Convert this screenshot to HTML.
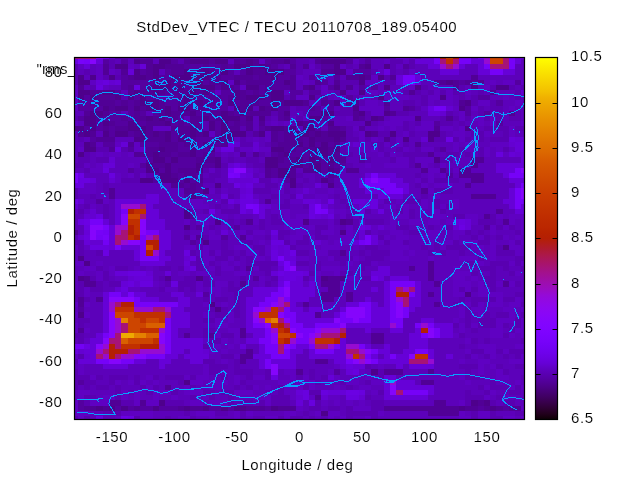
<!DOCTYPE html><html><head><meta charset="utf-8"><style>html,body{margin:0;padding:0;background:#fff;width:640px;height:480px;overflow:hidden}svg{display:block}text{font-family:"Liberation Sans",sans-serif;font-size:15px;letter-spacing:0.58px;fill:#000;stroke:#fff;stroke-width:0.12px;paint-order:fill}</style></head><body>
<svg width="640" height="480" viewBox="0 0 640 480" style="will-change:transform">
<text x="36.6" y="73.8" style="letter-spacing:0.2px">"rms_dummy</text>
<svg x="75" y="58" width="449" height="361" viewBox="75 58 449 361" overflow="hidden">
<rect x="70" y="50" width="460" height="375" fill="#5a00b4"/>
<g transform="translate(71.375,53.91) scale(6.25,5.1715)" shape-rendering="crispEdges">
<path fill="#a61377" d="M0 0h4v1h-4zM69 0h1v1h-1zM59 1h1v1h-1zM61 1h1v1h-1zM69 1h1v1h-1zM60 2h1v1h-1zM67 2h3v1h-3zM11 29h1v1h-1zM11 31h1v1h-1zM8 34h1v1h-1zM7 35h2v1h-2zM13 35h1v1h-1zM7 36h1v1h-1zM52 45h1v1h-1zM54 45h1v1h-1zM53 47h1v1h-1zM7 48h1v1h-1zM34 48h1v1h-1zM53 48h1v1h-1zM13 49h2v1h-2zM33 49h1v1h-1zM15 50h1v1h-1zM33 51h1v1h-1zM8 52h1v1h-1zM34 52h1v1h-1zM8 53h1v1h-1zM43 53h1v1h-1zM7 54h1v1h-1zM40 54h3v1h-3zM6 55h2v1h-2zM7 56h1v1h-1zM33 56h1v1h-1zM39 56h2v1h-2zM5 57h1v1h-1zM9 57h2v1h-2zM33 57h1v1h-1zM44 57h2v1h-2zM4 58h1v1h-1zM7 58h1v1h-1zM46 58h1v1h-1zM54 59h3v1h-3zM52 65h1v1h-1z"/>
<path fill="#8505fc" d="M4 0h1v1h-1zM3 1h1v1h-1zM26 22h2v1h-2zM72 22h1v1h-1zM48 24h1v1h-1zM72 26h1v1h-1zM72 27h1v1h-1zM8 31h1v1h-1zM8 32h1v1h-1zM11 32h1v1h-1zM3 33h2v1h-2zM11 33h1v1h-1zM3 34h1v1h-1zM11 34h1v1h-1zM3 35h1v1h-1zM9 36h2v1h-2zM35 41h1v1h-1zM34 45h1v1h-1zM34 46h1v1h-1zM6 47h4v1h-4zM32 48h1v1h-1zM52 48h1v1h-1zM29 49h2v1h-2zM44 49h3v1h-3zM52 49h1v1h-1zM6 50h1v1h-1zM33 50h1v1h-1zM44 50h3v1h-3zM52 50h1v1h-1zM6 51h1v1h-1zM29 51h1v1h-1zM34 51h1v1h-1zM42 51h1v1h-1zM45 51h1v1h-1zM6 52h1v1h-1zM31 52h1v1h-1zM43 52h1v1h-1zM6 53h1v1h-1zM35 53h1v1h-1zM39 53h1v1h-1zM57 53h1v1h-1zM6 54h1v1h-1zM14 54h1v1h-1zM32 54h1v1h-1zM36 54h1v1h-1zM38 54h1v1h-1zM57 54h1v1h-1zM5 55h1v1h-1zM14 55h1v1h-1zM32 55h1v1h-1zM4 56h1v1h-1zM34 56h1v1h-1zM47 57h1v1h-1zM10 58h2v1h-2zM54 58h1v1h-1zM6 59h2v1h-2zM45 59h1v1h-1zM47 59h1v1h-1zM32 60h1v1h-1zM32 61h1v1h-1zM51 64h1v1h-1zM51 65h1v1h-1z"/>
<path fill="#7602f8" d="M5 0h1v1h-1zM58 0h1v1h-1zM62 0h2v1h-2zM65 0h1v1h-1zM70 0h1v1h-1zM2 1h1v1h-1zM58 1h1v1h-1zM62 1h2v1h-2zM70 1h1v1h-1zM66 2h1v1h-1zM70 2h1v1h-1zM67 3h2v1h-2zM53 4h2v1h-2zM53 5h2v1h-2zM71 22h1v1h-1zM26 23h1v1h-1zM48 23h1v1h-1zM70 23h3v1h-3zM47 24h1v1h-1zM49 24h2v1h-2zM47 25h5v1h-5zM72 25h1v1h-1zM50 26h3v1h-3zM71 26h1v1h-1zM71 27h1v1h-1zM71 28h2v1h-2zM29 29h1v1h-1zM71 29h1v1h-1zM8 30h1v1h-1zM29 30h1v1h-1zM40 30h1v1h-1zM3 32h2v1h-2zM4 34h1v1h-1zM12 34h2v1h-2zM11 35h1v1h-1zM47 35h1v1h-1zM11 36h1v1h-1zM7 37h1v1h-1zM11 37h1v1h-1zM11 38h1v1h-1zM11 39h3v1h-3zM33 39h1v1h-1zM34 40h1v1h-1zM34 41h1v1h-1zM51 44h4v1h-4zM33 45h1v1h-1zM51 45h1v1h-1zM6 46h2v1h-2zM9 46h1v1h-1zM32 46h2v1h-2zM51 46h1v1h-1zM54 46h1v1h-1zM10 47h1v1h-1zM31 47h2v1h-2zM34 47h1v1h-1zM51 47h1v1h-1zM10 48h7v1h-7zM30 48h2v1h-2zM46 48h2v1h-2zM51 48h1v1h-1zM34 49h1v1h-1zM47 49h1v1h-1zM51 49h1v1h-1zM53 49h1v1h-1zM34 50h2v1h-2zM43 50h1v1h-1zM47 50h1v1h-1zM51 50h1v1h-1zM53 50h1v1h-1zM15 51h1v1h-1zM35 51h1v1h-1zM43 51h2v1h-2zM46 51h2v1h-2zM51 51h2v1h-2zM15 52h1v1h-1zM29 52h2v1h-2zM35 52h2v1h-2zM39 52h4v1h-4zM52 52h1v1h-1zM55 52h1v1h-1zM57 52h1v1h-1zM15 53h1v1h-1zM31 53h1v1h-1zM36 53h3v1h-3zM58 53h1v1h-1zM5 54h1v1h-1zM15 54h1v1h-1zM31 54h1v1h-1zM37 54h1v1h-1zM56 54h1v1h-1zM58 54h1v1h-1zM15 55h1v1h-1zM30 55h2v1h-2zM36 55h2v1h-2zM15 56h1v1h-1zM31 56h2v1h-2zM35 56h1v1h-1zM38 56h1v1h-1zM42 56h1v1h-1zM46 56h1v1h-1zM15 57h1v1h-1zM31 57h2v1h-2zM34 57h1v1h-1zM39 57h3v1h-3zM48 57h1v1h-1zM55 57h2v1h-2zM12 58h3v1h-3zM32 58h3v1h-3zM47 58h1v1h-1zM51 58h1v1h-1zM4 59h2v1h-2zM8 59h2v1h-2zM31 59h1v1h-1zM44 59h1v1h-1zM48 59h1v1h-1zM31 60h1v1h-1zM53 65h4v1h-4z"/>
<path fill="#6601d7" d="M6 0h1v1h-1zM53 0h1v1h-1zM56 0h2v1h-2zM64 0h1v1h-1zM71 0h2v1h-2zM4 1h1v1h-1zM55 1h3v1h-3zM64 1h2v1h-2zM71 1h1v1h-1zM2 2h1v1h-1zM11 2h1v1h-1zM57 2h2v1h-2zM62 2h1v1h-1zM65 2h1v1h-1zM9 3h1v1h-1zM59 3h3v1h-3zM65 3h2v1h-2zM69 3h2v1h-2zM52 4h1v1h-1zM55 4h1v1h-1zM4 5h1v1h-1zM7 5h1v1h-1zM52 5h1v1h-1zM55 5h1v1h-1zM57 11h2v1h-2zM70 16h1v1h-1zM8 17h1v1h-1zM71 17h1v1h-1zM71 18h1v1h-1zM70 19h1v1h-1zM72 19h1v1h-1zM72 20h1v1h-1zM5 21h2v1h-2zM68 21h5v1h-5zM68 22h3v1h-3zM28 23h1v1h-1zM47 23h1v1h-1zM49 23h3v1h-3zM69 23h1v1h-1zM3 24h1v1h-1zM25 24h1v1h-1zM29 24h1v1h-1zM46 24h1v1h-1zM51 24h2v1h-2zM70 24h3v1h-3zM27 25h1v1h-1zM39 25h1v1h-1zM46 25h1v1h-1zM52 25h2v1h-2zM71 25h1v1h-1zM28 26h1v1h-1zM47 26h3v1h-3zM53 26h1v1h-1zM70 26h1v1h-1zM12 27h2v1h-2zM24 27h1v1h-1zM27 27h1v1h-1zM36 27h1v1h-1zM49 27h4v1h-4zM70 27h1v1h-1zM7 28h7v1h-7zM29 28h1v1h-1zM37 28h2v1h-2zM45 28h2v1h-2zM69 28h2v1h-2zM7 29h1v1h-1zM12 29h1v1h-1zM30 29h1v1h-1zM40 29h1v1h-1zM47 29h1v1h-1zM70 29h1v1h-1zM72 29h1v1h-1zM7 30h1v1h-1zM12 30h2v1h-2zM30 30h1v1h-1zM46 30h1v1h-1zM71 30h2v1h-2zM7 31h1v1h-1zM12 31h2v1h-2zM30 31h1v1h-1zM39 31h1v1h-1zM5 32h1v1h-1zM7 32h1v1h-1zM12 32h3v1h-3zM61 32h1v1h-1zM63 32h1v1h-1zM6 33h1v1h-1zM12 33h3v1h-3zM47 33h1v1h-1zM63 33h1v1h-1zM2 34h1v1h-1zM6 34h1v1h-1zM14 34h2v1h-2zM24 34h1v1h-1zM6 35h1v1h-1zM14 35h2v1h-2zM48 35h1v1h-1zM2 36h1v1h-1zM6 36h1v1h-1zM14 36h2v1h-2zM45 36h1v1h-1zM48 36h1v1h-1zM6 37h1v1h-1zM8 37h3v1h-3zM14 37h2v1h-2zM32 37h1v1h-1zM34 37h1v1h-1zM10 38h1v1h-1zM14 38h1v1h-1zM34 38h1v1h-1zM10 39h1v1h-1zM14 39h2v1h-2zM34 39h2v1h-2zM11 40h4v1h-4zM18 40h1v1h-1zM49 41h2v1h-2zM7 42h2v1h-2zM15 42h1v1h-1zM32 42h1v1h-1zM37 42h1v1h-1zM48 42h3v1h-3zM10 43h3v1h-3zM33 43h1v1h-1zM36 43h1v1h-1zM49 43h1v1h-1zM51 43h3v1h-3zM8 44h1v1h-1zM35 44h2v1h-2zM38 44h1v1h-1zM50 44h1v1h-1zM55 44h1v1h-1zM29 45h4v1h-4zM35 45h4v1h-4zM48 45h1v1h-1zM50 45h1v1h-1zM55 45h1v1h-1zM5 46h1v1h-1zM8 46h1v1h-1zM10 46h2v1h-2zM16 46h2v1h-2zM20 46h1v1h-1zM29 46h3v1h-3zM35 46h4v1h-4zM50 46h1v1h-1zM55 46h1v1h-1zM5 47h1v1h-1zM11 47h3v1h-3zM17 47h2v1h-2zM28 47h3v1h-3zM35 47h3v1h-3zM47 47h1v1h-1zM50 47h1v1h-1zM54 47h2v1h-2zM5 48h1v1h-1zM17 48h2v1h-2zM28 48h2v1h-2zM35 48h1v1h-1zM44 48h2v1h-2zM48 48h1v1h-1zM50 48h1v1h-1zM54 48h2v1h-2zM5 49h1v1h-1zM16 49h2v1h-2zM28 49h1v1h-1zM35 49h2v1h-2zM38 49h2v1h-2zM43 49h1v1h-1zM48 49h3v1h-3zM54 49h1v1h-1zM5 50h1v1h-1zM16 50h3v1h-3zM28 50h1v1h-1zM36 50h3v1h-3zM42 50h1v1h-1zM48 50h3v1h-3zM5 51h1v1h-1zM16 51h3v1h-3zM28 51h1v1h-1zM36 51h6v1h-6zM48 51h3v1h-3zM56 51h2v1h-2zM5 52h1v1h-1zM16 52h3v1h-3zM28 52h1v1h-1zM37 52h2v1h-2zM44 52h7v1h-7zM58 52h3v1h-3zM5 53h1v1h-1zM16 53h1v1h-1zM28 53h3v1h-3zM47 53h1v1h-1zM51 53h2v1h-2zM55 53h1v1h-1zM59 53h2v1h-2zM4 54h1v1h-1zM16 54h1v1h-1zM29 54h2v1h-2zM54 54h2v1h-2zM59 54h2v1h-2zM3 55h2v1h-2zM16 55h5v1h-5zM28 55h2v1h-2zM43 55h1v1h-1zM54 55h3v1h-3zM3 56h1v1h-1zM16 56h5v1h-5zM27 56h1v1h-1zM30 56h1v1h-1zM36 56h2v1h-2zM43 56h1v1h-1zM47 56h1v1h-1zM50 56h1v1h-1zM54 56h3v1h-3zM2 57h2v1h-2zM16 57h2v1h-2zM19 57h2v1h-2zM30 57h1v1h-1zM35 57h2v1h-2zM38 57h1v1h-1zM42 57h2v1h-2zM49 57h2v1h-2zM53 57h2v1h-2zM57 57h1v1h-1zM3 58h1v1h-1zM15 58h2v1h-2zM18 58h4v1h-4zM29 58h3v1h-3zM35 58h1v1h-1zM38 58h6v1h-6zM48 58h1v1h-1zM50 58h1v1h-1zM52 58h2v1h-2zM57 58h1v1h-1zM60 58h1v1h-1zM1 59h3v1h-3zM10 59h2v1h-2zM14 59h2v1h-2zM19 59h2v1h-2zM30 59h1v1h-1zM32 59h4v1h-4zM42 59h2v1h-2zM49 59h5v1h-5zM5 60h4v1h-4zM14 60h1v1h-1zM30 60h1v1h-1zM33 60h3v1h-3zM45 60h2v1h-2zM52 60h1v1h-1zM54 60h4v1h-4zM44 61h1v1h-1zM41 62h1v1h-1zM50 62h2v1h-2zM50 63h1v1h-1zM52 63h3v1h-3zM50 64h1v1h-1zM52 64h6v1h-6zM36 65h1v1h-1zM41 65h3v1h-3zM50 65h1v1h-1zM57 65h1v1h-1zM50 66h7v1h-7zM36 67h1v1h-1z"/>
<path fill="#5900b1" d="M7 0h1v1h-1zM18 0h1v1h-1zM25 0h1v1h-1zM35 0h1v1h-1zM39 0h1v1h-1zM42 0h1v1h-1zM44 0h2v1h-2zM47 0h4v1h-4zM6 1h1v1h-1zM17 1h1v1h-1zM36 1h2v1h-2zM46 1h1v1h-1zM51 1h2v1h-2zM54 1h1v1h-1zM0 2h1v1h-1zM6 2h1v1h-1zM33 2h1v1h-1zM36 2h1v1h-1zM39 2h1v1h-1zM44 2h1v1h-1zM51 2h1v1h-1zM54 2h1v1h-1zM0 3h1v1h-1zM2 3h1v1h-1zM36 3h1v1h-1zM48 3h1v1h-1zM51 3h1v1h-1zM53 3h1v1h-1zM0 4h1v1h-1zM5 4h1v1h-1zM7 4h1v1h-1zM39 4h2v1h-2zM50 4h1v1h-1zM0 5h1v1h-1zM43 5h3v1h-3zM50 5h2v1h-2zM3 6h1v1h-1zM39 6h1v1h-1zM43 6h1v1h-1zM47 6h1v1h-1zM56 6h1v1h-1zM62 6h1v1h-1zM67 6h1v1h-1zM70 6h1v1h-1zM72 6h1v1h-1zM42 7h1v1h-1zM53 7h1v1h-1zM55 7h1v1h-1zM57 7h1v1h-1zM59 7h1v1h-1zM61 7h2v1h-2zM65 7h1v1h-1zM71 7h1v1h-1zM8 8h1v1h-1zM14 8h2v1h-2zM34 8h1v1h-1zM39 8h1v1h-1zM45 8h1v1h-1zM48 8h1v1h-1zM56 8h1v1h-1zM62 8h1v1h-1zM64 8h1v1h-1zM71 8h1v1h-1zM39 9h1v1h-1zM46 9h1v1h-1zM53 9h2v1h-2zM56 9h1v1h-1zM64 9h1v1h-1zM67 9h1v1h-1zM36 10h2v1h-2zM43 10h2v1h-2zM55 10h1v1h-1zM65 10h1v1h-1zM67 10h2v1h-2zM32 11h1v1h-1zM37 11h1v1h-1zM42 11h3v1h-3zM47 11h1v1h-1zM52 11h2v1h-2zM60 11h1v1h-1zM65 11h1v1h-1zM67 11h2v1h-2zM71 11h1v1h-1zM0 12h1v1h-1zM31 12h1v1h-1zM36 12h1v1h-1zM41 12h1v1h-1zM47 12h1v1h-1zM59 12h1v1h-1zM61 12h1v1h-1zM63 12h1v1h-1zM66 12h1v1h-1zM68 12h1v1h-1zM70 12h2v1h-2zM21 13h1v1h-1zM35 13h1v1h-1zM39 13h2v1h-2zM48 13h1v1h-1zM53 13h1v1h-1zM55 13h1v1h-1zM59 13h2v1h-2zM62 13h1v1h-1zM21 14h1v1h-1zM27 14h1v1h-1zM44 14h1v1h-1zM53 14h1v1h-1zM66 14h4v1h-4zM71 14h2v1h-2zM28 15h1v1h-1zM44 15h1v1h-1zM49 15h2v1h-2zM54 15h1v1h-1zM59 15h1v1h-1zM64 15h2v1h-2zM69 15h1v1h-1zM1 16h1v1h-1zM27 16h1v1h-1zM44 16h2v1h-2zM47 16h1v1h-1zM51 16h1v1h-1zM58 16h2v1h-2zM61 16h1v1h-1zM63 16h1v1h-1zM65 16h1v1h-1zM67 16h3v1h-3zM27 17h2v1h-2zM31 17h1v1h-1zM43 17h1v1h-1zM48 17h2v1h-2zM51 17h1v1h-1zM53 17h1v1h-1zM4 18h2v1h-2zM8 18h1v1h-1zM26 18h1v1h-1zM43 18h1v1h-1zM49 18h1v1h-1zM52 18h1v1h-1zM55 18h1v1h-1zM58 18h1v1h-1zM62 18h1v1h-1zM65 18h1v1h-1zM69 18h1v1h-1zM2 19h1v1h-1zM23 19h1v1h-1zM30 19h1v1h-1zM43 19h2v1h-2zM46 19h1v1h-1zM50 19h1v1h-1zM53 19h4v1h-4zM60 19h2v1h-2zM63 19h1v1h-1zM65 19h1v1h-1zM1 20h2v1h-2zM4 20h2v1h-2zM25 20h1v1h-1zM28 20h2v1h-2zM47 20h1v1h-1zM51 20h1v1h-1zM54 20h1v1h-1zM59 20h2v1h-2zM0 21h2v1h-2zM24 21h1v1h-1zM29 21h2v1h-2zM44 21h1v1h-1zM54 21h1v1h-1zM58 21h1v1h-1zM2 22h1v1h-1zM10 22h2v1h-2zM21 22h1v1h-1zM23 22h1v1h-1zM60 22h1v1h-1zM10 23h1v1h-1zM12 23h1v1h-1zM22 23h2v1h-2zM36 23h1v1h-1zM39 23h2v1h-2zM55 23h1v1h-1zM8 24h3v1h-3zM21 24h2v1h-2zM30 24h2v1h-2zM37 24h1v1h-1zM39 24h1v1h-1zM42 24h1v1h-1zM56 24h1v1h-1zM58 24h4v1h-4zM5 25h1v1h-1zM31 25h2v1h-2zM34 25h1v1h-1zM36 25h1v1h-1zM42 25h1v1h-1zM55 25h1v1h-1zM0 26h1v1h-1zM5 26h1v1h-1zM23 26h1v1h-1zM29 26h3v1h-3zM34 26h1v1h-1zM58 26h3v1h-3zM0 27h1v1h-1zM3 27h1v1h-1zM25 27h1v1h-1zM32 27h1v1h-1zM35 27h1v1h-1zM42 27h1v1h-1zM56 27h1v1h-1zM24 28h1v1h-1zM34 28h1v1h-1zM43 28h1v1h-1zM50 28h1v1h-1zM53 28h3v1h-3zM58 28h1v1h-1zM2 29h1v1h-1zM5 29h1v1h-1zM23 29h1v1h-1zM26 29h1v1h-1zM33 29h2v1h-2zM37 29h1v1h-1zM44 29h1v1h-1zM58 29h1v1h-1zM60 29h1v1h-1zM1 30h1v1h-1zM5 30h1v1h-1zM19 30h1v1h-1zM21 30h1v1h-1zM24 30h3v1h-3zM45 30h1v1h-1zM47 30h1v1h-1zM52 30h1v1h-1zM54 30h1v1h-1zM59 30h1v1h-1zM5 31h1v1h-1zM32 31h1v1h-1zM44 31h1v1h-1zM46 31h1v1h-1zM54 31h1v1h-1zM61 31h2v1h-2zM67 31h1v1h-1zM19 32h1v1h-1zM25 32h1v1h-1zM27 32h1v1h-1zM30 32h1v1h-1zM32 32h2v1h-2zM42 32h1v1h-1zM45 32h1v1h-1zM47 32h3v1h-3zM65 32h3v1h-3zM19 33h1v1h-1zM22 33h1v1h-1zM25 33h1v1h-1zM30 33h1v1h-1zM39 33h2v1h-2zM43 33h1v1h-1zM45 33h1v1h-1zM52 33h2v1h-2zM57 33h1v1h-1zM60 33h1v1h-1zM68 33h1v1h-1zM70 33h1v1h-1zM18 34h1v1h-1zM28 34h1v1h-1zM33 34h2v1h-2zM39 34h1v1h-1zM47 34h1v1h-1zM54 34h2v1h-2zM63 34h1v1h-1zM65 34h1v1h-1zM71 34h1v1h-1zM21 35h1v1h-1zM31 35h1v1h-1zM33 35h1v1h-1zM37 35h1v1h-1zM39 35h2v1h-2zM49 35h1v1h-1zM64 35h1v1h-1zM66 35h1v1h-1zM68 35h1v1h-1zM0 36h2v1h-2zM20 36h1v1h-1zM24 36h1v1h-1zM27 36h2v1h-2zM34 36h1v1h-1zM36 36h2v1h-2zM50 36h1v1h-1zM53 36h1v1h-1zM58 36h1v1h-1zM61 36h1v1h-1zM65 36h2v1h-2zM71 36h1v1h-1zM1 37h1v1h-1zM20 37h1v1h-1zM24 37h1v1h-1zM29 37h2v1h-2zM35 37h1v1h-1zM47 37h2v1h-2zM56 37h1v1h-1zM58 37h1v1h-1zM60 37h4v1h-4zM68 37h1v1h-1zM1 38h1v1h-1zM4 38h1v1h-1zM19 38h1v1h-1zM22 38h1v1h-1zM24 38h2v1h-2zM27 38h1v1h-1zM30 38h1v1h-1zM36 38h2v1h-2zM41 38h2v1h-2zM46 38h1v1h-1zM48 38h3v1h-3zM57 38h1v1h-1zM59 38h1v1h-1zM62 38h1v1h-1zM68 38h3v1h-3zM20 39h1v1h-1zM23 39h2v1h-2zM26 39h1v1h-1zM28 39h1v1h-1zM42 39h3v1h-3zM47 39h3v1h-3zM65 39h1v1h-1zM71 39h2v1h-2zM20 40h1v1h-1zM22 40h1v1h-1zM28 40h5v1h-5zM36 40h2v1h-2zM39 40h1v1h-1zM43 40h1v1h-1zM46 40h2v1h-2zM63 40h2v1h-2zM67 40h3v1h-3zM71 40h1v1h-1zM4 41h1v1h-1zM7 41h2v1h-2zM14 41h2v1h-2zM17 41h1v1h-1zM20 41h1v1h-1zM23 41h1v1h-1zM26 41h1v1h-1zM30 41h2v1h-2zM39 41h1v1h-1zM46 41h1v1h-1zM65 41h3v1h-3zM69 41h1v1h-1zM72 41h1v1h-1zM5 42h1v1h-1zM23 42h1v1h-1zM31 42h1v1h-1zM38 42h1v1h-1zM43 42h2v1h-2zM64 42h1v1h-1zM67 42h1v1h-1zM70 42h1v1h-1zM3 43h1v1h-1zM5 43h1v1h-1zM14 43h1v1h-1zM18 43h2v1h-2zM21 43h1v1h-1zM27 43h1v1h-1zM32 43h1v1h-1zM37 43h1v1h-1zM46 43h2v1h-2zM66 43h2v1h-2zM1 44h1v1h-1zM4 44h1v1h-1zM6 44h2v1h-2zM15 44h1v1h-1zM17 44h3v1h-3zM21 44h2v1h-2zM25 44h1v1h-1zM31 44h1v1h-1zM66 44h2v1h-2zM71 44h1v1h-1zM1 45h1v1h-1zM3 45h2v1h-2zM14 45h1v1h-1zM17 45h1v1h-1zM19 45h1v1h-1zM25 45h2v1h-2zM62 45h1v1h-1zM64 45h1v1h-1zM67 45h1v1h-1zM0 46h2v1h-2zM26 46h1v1h-1zM71 46h2v1h-2zM0 47h1v1h-1zM2 47h1v1h-1zM21 47h1v1h-1zM23 47h2v1h-2zM26 47h1v1h-1zM62 47h1v1h-1zM64 47h4v1h-4zM69 47h2v1h-2zM26 48h1v1h-1zM61 48h1v1h-1zM64 48h1v1h-1zM72 48h1v1h-1zM22 49h1v1h-1zM24 49h1v1h-1zM26 49h1v1h-1zM63 49h1v1h-1zM23 50h2v1h-2zM26 50h1v1h-1zM63 50h1v1h-1zM66 50h1v1h-1zM68 50h2v1h-2zM72 50h1v1h-1zM1 51h2v1h-2zM21 51h2v1h-2zM63 51h1v1h-1zM65 51h3v1h-3zM71 51h1v1h-1zM1 52h1v1h-1zM61 52h1v1h-1zM63 52h1v1h-1zM65 52h3v1h-3zM69 52h1v1h-1zM71 52h1v1h-1zM21 53h2v1h-2zM64 53h1v1h-1zM70 53h1v1h-1zM0 54h2v1h-2zM21 54h1v1h-1zM24 54h2v1h-2zM62 54h1v1h-1zM69 54h1v1h-1zM1 55h1v1h-1zM22 55h2v1h-2zM64 55h1v1h-1zM66 55h1v1h-1zM72 55h1v1h-1zM21 56h1v1h-1zM62 56h1v1h-1zM64 57h2v1h-2zM68 57h1v1h-1zM70 57h3v1h-3zM1 58h1v1h-1zM24 58h2v1h-2zM63 58h1v1h-1zM66 58h1v1h-1zM69 58h1v1h-1zM71 58h1v1h-1zM0 59h1v1h-1zM21 59h2v1h-2zM26 59h1v1h-1zM22 60h3v1h-3zM26 60h1v1h-1zM47 60h1v1h-1zM62 60h3v1h-3zM68 60h1v1h-1zM71 60h2v1h-2zM0 61h1v1h-1zM22 61h2v1h-2zM26 61h3v1h-3zM31 61h1v1h-1zM38 61h1v1h-1zM49 61h1v1h-1zM63 61h1v1h-1zM69 61h1v1h-1zM0 62h3v1h-3zM4 62h1v1h-1zM6 62h3v1h-3zM10 62h1v1h-1zM13 62h1v1h-1zM15 62h3v1h-3zM19 62h1v1h-1zM24 62h1v1h-1zM28 62h1v1h-1zM31 62h1v1h-1zM36 62h1v1h-1zM38 62h1v1h-1zM40 62h1v1h-1zM49 62h1v1h-1zM63 62h3v1h-3zM72 62h1v1h-1zM0 63h1v1h-1zM2 63h2v1h-2zM6 63h1v1h-1zM10 63h1v1h-1zM17 63h1v1h-1zM27 63h1v1h-1zM39 63h1v1h-1zM43 63h1v1h-1zM47 63h1v1h-1zM67 63h1v1h-1zM0 64h1v1h-1zM2 64h1v1h-1zM4 64h2v1h-2zM7 64h1v1h-1zM11 64h1v1h-1zM13 64h1v1h-1zM19 64h1v1h-1zM26 64h1v1h-1zM28 64h1v1h-1zM33 64h1v1h-1zM37 64h1v1h-1zM44 64h1v1h-1zM65 64h1v1h-1zM67 64h3v1h-3zM71 64h1v1h-1zM7 65h1v1h-1zM9 65h1v1h-1zM12 65h1v1h-1zM16 65h1v1h-1zM21 65h2v1h-2zM24 65h2v1h-2zM31 65h1v1h-1zM33 65h1v1h-1zM38 65h2v1h-2zM49 65h1v1h-1zM63 65h1v1h-1zM66 65h1v1h-1zM70 65h2v1h-2zM2 66h2v1h-2zM7 66h1v1h-1zM19 66h1v1h-1zM22 66h1v1h-1zM25 66h1v1h-1zM32 66h3v1h-3zM47 66h1v1h-1zM63 66h3v1h-3zM68 66h1v1h-1zM2 67h1v1h-1zM8 67h2v1h-2zM15 67h3v1h-3zM25 67h1v1h-1zM27 67h2v1h-2zM30 67h1v1h-1zM32 67h3v1h-3zM39 67h1v1h-1zM48 67h2v1h-2zM63 67h1v1h-1zM67 67h1v1h-1zM69 67h2v1h-2zM38 68h2v1h-2zM41 68h2v1h-2zM44 68h1v1h-1zM48 68h2v1h-2zM5 69h3v1h-3zM18 69h1v1h-1zM23 69h2v1h-2zM27 69h1v1h-1zM37 69h1v1h-1zM44 69h5v1h-5zM64 69h1v1h-1zM67 69h1v1h-1zM71 69h2v1h-2zM0 70h1v1h-1zM2 70h1v1h-1zM10 70h1v1h-1zM15 70h1v1h-1zM19 70h1v1h-1zM27 70h1v1h-1zM29 70h2v1h-2zM33 70h1v1h-1zM35 70h2v1h-2zM38 70h1v1h-1zM40 70h1v1h-1zM44 70h1v1h-1zM48 70h1v1h-1zM64 70h1v1h-1zM67 70h2v1h-2z"/>
<path fill="#5c01ba" d="M8 0h1v1h-1zM10 0h1v1h-1zM12 0h1v1h-1zM17 0h1v1h-1zM21 0h3v1h-3zM30 0h1v1h-1zM32 0h1v1h-1zM36 0h1v1h-1zM38 0h1v1h-1zM40 0h2v1h-2zM55 0h1v1h-1zM7 1h1v1h-1zM9 1h1v1h-1zM13 1h1v1h-1zM25 1h1v1h-1zM38 1h1v1h-1zM48 1h2v1h-2zM72 1h1v1h-1zM3 2h1v1h-1zM10 2h1v1h-1zM34 2h1v1h-1zM45 2h1v1h-1zM48 2h2v1h-2zM55 2h2v1h-2zM63 2h2v1h-2zM71 2h2v1h-2zM1 3h1v1h-1zM3 3h1v1h-1zM7 3h1v1h-1zM14 3h1v1h-1zM26 3h1v1h-1zM37 3h3v1h-3zM52 3h1v1h-1zM55 3h4v1h-4zM62 3h3v1h-3zM71 3h2v1h-2zM2 4h1v1h-1zM37 4h1v1h-1zM41 4h1v1h-1zM43 4h1v1h-1zM56 4h8v1h-8zM65 4h8v1h-8zM36 5h1v1h-1zM38 5h1v1h-1zM41 5h1v1h-1zM49 5h1v1h-1zM56 5h2v1h-2zM66 5h1v1h-1zM68 5h1v1h-1zM2 6h1v1h-1zM6 6h2v1h-2zM36 6h1v1h-1zM45 6h1v1h-1zM49 6h1v1h-1zM51 6h3v1h-3zM57 6h4v1h-4zM63 6h1v1h-1zM65 6h1v1h-1zM71 6h1v1h-1zM8 7h1v1h-1zM37 7h1v1h-1zM41 7h1v1h-1zM44 7h2v1h-2zM49 7h1v1h-1zM51 7h1v1h-1zM56 7h1v1h-1zM64 7h1v1h-1zM66 7h1v1h-1zM68 7h3v1h-3zM41 8h1v1h-1zM43 8h1v1h-1zM46 8h2v1h-2zM54 8h2v1h-2zM61 8h1v1h-1zM63 8h1v1h-1zM67 8h2v1h-2zM70 8h1v1h-1zM72 8h1v1h-1zM38 9h1v1h-1zM49 9h1v1h-1zM51 9h2v1h-2zM55 9h1v1h-1zM58 9h1v1h-1zM61 9h1v1h-1zM69 9h2v1h-2zM25 10h1v1h-1zM29 10h1v1h-1zM35 10h1v1h-1zM40 10h1v1h-1zM42 10h1v1h-1zM51 10h2v1h-2zM66 10h1v1h-1zM69 10h1v1h-1zM71 10h2v1h-2zM0 11h2v1h-2zM8 11h1v1h-1zM12 11h1v1h-1zM35 11h2v1h-2zM54 11h3v1h-3zM61 11h1v1h-1zM64 11h1v1h-1zM69 11h1v1h-1zM72 11h1v1h-1zM18 12h1v1h-1zM29 12h1v1h-1zM32 12h1v1h-1zM42 12h2v1h-2zM50 12h1v1h-1zM56 12h3v1h-3zM69 12h1v1h-1zM72 12h1v1h-1zM1 13h1v1h-1zM29 13h1v1h-1zM31 13h1v1h-1zM33 13h1v1h-1zM42 13h5v1h-5zM49 13h1v1h-1zM54 13h1v1h-1zM61 13h1v1h-1zM63 13h2v1h-2zM66 13h1v1h-1zM69 13h3v1h-3zM29 14h1v1h-1zM36 14h1v1h-1zM40 14h1v1h-1zM47 14h2v1h-2zM50 14h1v1h-1zM52 14h1v1h-1zM54 14h1v1h-1zM61 14h1v1h-1zM64 14h2v1h-2zM0 15h1v1h-1zM4 15h1v1h-1zM45 15h1v1h-1zM52 15h1v1h-1zM55 15h2v1h-2zM60 15h1v1h-1zM63 15h1v1h-1zM67 15h2v1h-2zM71 15h2v1h-2zM0 16h1v1h-1zM2 16h1v1h-1zM7 16h3v1h-3zM28 16h1v1h-1zM30 16h1v1h-1zM49 16h1v1h-1zM54 16h2v1h-2zM64 16h1v1h-1zM66 16h1v1h-1zM0 17h2v1h-2zM4 17h1v1h-1zM30 17h1v1h-1zM47 17h1v1h-1zM54 17h1v1h-1zM56 17h5v1h-5zM62 17h1v1h-1zM65 17h2v1h-2zM0 18h1v1h-1zM44 18h2v1h-2zM47 18h1v1h-1zM50 18h2v1h-2zM54 18h1v1h-1zM60 18h1v1h-1zM67 18h1v1h-1zM0 19h1v1h-1zM3 19h1v1h-1zM5 19h1v1h-1zM8 19h1v1h-1zM25 19h1v1h-1zM28 19h1v1h-1zM31 19h1v1h-1zM45 19h1v1h-1zM47 19h2v1h-2zM52 19h1v1h-1zM58 19h2v1h-2zM62 19h1v1h-1zM64 19h1v1h-1zM67 19h1v1h-1zM0 20h1v1h-1zM3 20h1v1h-1zM7 20h5v1h-5zM24 20h1v1h-1zM26 20h2v1h-2zM30 20h1v1h-1zM44 20h2v1h-2zM48 20h3v1h-3zM62 20h2v1h-2zM66 20h6v1h-6zM3 21h1v1h-1zM7 21h2v1h-2zM10 21h1v1h-1zM28 21h1v1h-1zM45 21h2v1h-2zM48 21h2v1h-2zM57 21h1v1h-1zM60 21h4v1h-4zM65 21h3v1h-3zM0 22h2v1h-2zM6 22h3v1h-3zM24 22h1v1h-1zM30 22h1v1h-1zM36 22h1v1h-1zM43 22h1v1h-1zM46 22h10v1h-10zM64 22h4v1h-4zM2 23h4v1h-4zM8 23h1v1h-1zM21 23h1v1h-1zM24 23h1v1h-1zM29 23h1v1h-1zM37 23h2v1h-2zM43 23h4v1h-4zM52 23h3v1h-3zM56 23h1v1h-1zM58 23h1v1h-1zM61 23h1v1h-1zM66 23h3v1h-3zM4 24h2v1h-2zM23 24h2v1h-2zM33 24h1v1h-1zM36 24h1v1h-1zM38 24h1v1h-1zM43 24h3v1h-3zM53 24h2v1h-2zM62 24h2v1h-2zM66 24h4v1h-4zM4 25h1v1h-1zM6 25h10v1h-10zM21 25h2v1h-2zM24 25h2v1h-2zM37 25h2v1h-2zM43 25h3v1h-3zM54 25h1v1h-1zM57 25h1v1h-1zM61 25h2v1h-2zM64 25h7v1h-7zM4 26h1v1h-1zM7 26h11v1h-11zM25 26h2v1h-2zM32 26h1v1h-1zM35 26h1v1h-1zM39 26h2v1h-2zM42 26h5v1h-5zM54 26h2v1h-2zM61 26h9v1h-9zM1 27h2v1h-2zM4 27h2v1h-2zM7 27h5v1h-5zM14 27h4v1h-4zM21 27h3v1h-3zM26 27h1v1h-1zM30 27h2v1h-2zM33 27h2v1h-2zM37 27h2v1h-2zM41 27h1v1h-1zM43 27h6v1h-6zM53 27h3v1h-3zM57 27h1v1h-1zM59 27h5v1h-5zM68 27h2v1h-2zM2 28h2v1h-2zM6 28h1v1h-1zM14 28h5v1h-5zM21 28h2v1h-2zM30 28h1v1h-1zM32 28h2v1h-2zM42 28h1v1h-1zM44 28h1v1h-1zM51 28h1v1h-1zM57 28h1v1h-1zM59 28h2v1h-2zM62 28h7v1h-7zM1 29h1v1h-1zM4 29h1v1h-1zM6 29h1v1h-1zM13 29h6v1h-6zM22 29h1v1h-1zM24 29h1v1h-1zM35 29h2v1h-2zM42 29h2v1h-2zM49 29h1v1h-1zM52 29h1v1h-1zM54 29h2v1h-2zM57 29h1v1h-1zM62 29h8v1h-8zM4 30h1v1h-1zM6 30h1v1h-1zM14 30h4v1h-4zM20 30h1v1h-1zM31 30h1v1h-1zM35 30h3v1h-3zM44 30h1v1h-1zM50 30h2v1h-2zM55 30h3v1h-3zM60 30h8v1h-8zM69 30h2v1h-2zM0 31h2v1h-2zM6 31h1v1h-1zM14 31h4v1h-4zM25 31h1v1h-1zM27 31h2v1h-2zM31 31h1v1h-1zM33 31h1v1h-1zM35 31h1v1h-1zM42 31h1v1h-1zM47 31h4v1h-4zM55 31h3v1h-3zM60 31h1v1h-1zM65 31h1v1h-1zM69 31h1v1h-1zM0 32h1v1h-1zM6 32h1v1h-1zM15 32h3v1h-3zM22 32h1v1h-1zM24 32h1v1h-1zM26 32h1v1h-1zM31 32h1v1h-1zM38 32h3v1h-3zM50 32h1v1h-1zM52 32h2v1h-2zM56 32h1v1h-1zM59 32h1v1h-1zM68 32h1v1h-1zM71 32h1v1h-1zM0 33h2v1h-2zM15 33h3v1h-3zM21 33h1v1h-1zM23 33h1v1h-1zM27 33h3v1h-3zM31 33h3v1h-3zM37 33h1v1h-1zM42 33h1v1h-1zM54 33h3v1h-3zM58 33h1v1h-1zM64 33h2v1h-2zM71 33h1v1h-1zM1 34h1v1h-1zM16 34h2v1h-2zM19 34h3v1h-3zM23 34h1v1h-1zM26 34h1v1h-1zM31 34h1v1h-1zM35 34h1v1h-1zM38 34h1v1h-1zM42 34h1v1h-1zM45 34h1v1h-1zM49 34h2v1h-2zM53 34h1v1h-1zM56 34h1v1h-1zM59 34h2v1h-2zM64 34h1v1h-1zM66 34h1v1h-1zM68 34h3v1h-3zM0 35h1v1h-1zM16 35h2v1h-2zM25 35h2v1h-2zM29 35h2v1h-2zM34 35h1v1h-1zM41 35h2v1h-2zM45 35h1v1h-1zM51 35h1v1h-1zM54 35h2v1h-2zM59 35h2v1h-2zM62 35h2v1h-2zM67 35h1v1h-1zM70 35h1v1h-1zM72 35h1v1h-1zM16 36h3v1h-3zM22 36h2v1h-2zM25 36h2v1h-2zM29 36h1v1h-1zM31 36h1v1h-1zM38 36h1v1h-1zM41 36h1v1h-1zM54 36h3v1h-3zM62 36h1v1h-1zM68 36h2v1h-2zM16 37h2v1h-2zM22 37h2v1h-2zM25 37h1v1h-1zM36 37h4v1h-4zM43 37h2v1h-2zM46 37h1v1h-1zM49 37h2v1h-2zM54 37h2v1h-2zM57 37h1v1h-1zM66 37h1v1h-1zM72 37h1v1h-1zM0 38h1v1h-1zM2 38h2v1h-2zM6 38h4v1h-4zM15 38h3v1h-3zM20 38h1v1h-1zM26 38h1v1h-1zM29 38h1v1h-1zM38 38h1v1h-1zM44 38h2v1h-2zM47 38h1v1h-1zM53 38h1v1h-1zM55 38h2v1h-2zM58 38h1v1h-1zM60 38h2v1h-2zM63 38h2v1h-2zM66 38h1v1h-1zM0 39h1v1h-1zM2 39h8v1h-8zM16 39h2v1h-2zM27 39h1v1h-1zM31 39h1v1h-1zM38 39h3v1h-3zM46 39h1v1h-1zM50 39h1v1h-1zM54 39h3v1h-3zM58 39h4v1h-4zM66 39h1v1h-1zM68 39h3v1h-3zM3 40h1v1h-1zM5 40h6v1h-6zM15 40h3v1h-3zM19 40h1v1h-1zM23 40h1v1h-1zM25 40h1v1h-1zM27 40h1v1h-1zM38 40h1v1h-1zM40 40h3v1h-3zM45 40h1v1h-1zM49 40h8v1h-8zM58 40h5v1h-5zM66 40h1v1h-1zM0 41h2v1h-2zM5 41h1v1h-1zM9 41h1v1h-1zM11 41h1v1h-1zM13 41h1v1h-1zM16 41h1v1h-1zM21 41h1v1h-1zM27 41h1v1h-1zM32 41h1v1h-1zM38 41h1v1h-1zM43 41h3v1h-3zM47 41h2v1h-2zM51 41h3v1h-3zM55 41h2v1h-2zM58 41h3v1h-3zM62 41h3v1h-3zM68 41h1v1h-1zM70 41h2v1h-2zM0 42h1v1h-1zM2 42h2v1h-2zM13 42h2v1h-2zM16 42h1v1h-1zM19 42h1v1h-1zM22 42h1v1h-1zM24 42h2v1h-2zM28 42h3v1h-3zM40 42h2v1h-2zM45 42h3v1h-3zM51 42h6v1h-6zM58 42h3v1h-3zM65 42h2v1h-2zM68 42h2v1h-2zM72 42h1v1h-1zM0 43h1v1h-1zM6 43h1v1h-1zM13 43h1v1h-1zM16 43h2v1h-2zM22 43h5v1h-5zM28 43h1v1h-1zM31 43h1v1h-1zM39 43h1v1h-1zM50 43h1v1h-1zM54 43h3v1h-3zM58 43h3v1h-3zM63 43h1v1h-1zM65 43h1v1h-1zM68 43h5v1h-5zM0 44h1v1h-1zM5 44h1v1h-1zM14 44h1v1h-1zM26 44h1v1h-1zM28 44h2v1h-2zM32 44h1v1h-1zM39 44h1v1h-1zM43 44h7v1h-7zM56 44h2v1h-2zM59 44h2v1h-2zM64 44h1v1h-1zM72 44h1v1h-1zM0 45h1v1h-1zM5 45h2v1h-2zM11 45h3v1h-3zM18 45h1v1h-1zM21 45h1v1h-1zM24 45h1v1h-1zM27 45h2v1h-2zM39 45h2v1h-2zM43 45h5v1h-5zM49 45h1v1h-1zM56 45h5v1h-5zM68 45h5v1h-5zM3 46h2v1h-2zM12 46h4v1h-4zM18 46h2v1h-2zM22 46h1v1h-1zM24 46h2v1h-2zM27 46h2v1h-2zM39 46h1v1h-1zM43 46h1v1h-1zM45 46h5v1h-5zM56 46h1v1h-1zM58 46h3v1h-3zM64 46h1v1h-1zM69 46h2v1h-2zM3 47h1v1h-1zM14 47h3v1h-3zM19 47h2v1h-2zM22 47h1v1h-1zM25 47h1v1h-1zM27 47h1v1h-1zM38 47h2v1h-2zM42 47h2v1h-2zM45 47h2v1h-2zM48 47h2v1h-2zM56 47h6v1h-6zM63 47h1v1h-1zM72 47h1v1h-1zM3 48h2v1h-2zM19 48h2v1h-2zM23 48h1v1h-1zM25 48h1v1h-1zM27 48h1v1h-1zM36 48h1v1h-1zM38 48h6v1h-6zM49 48h1v1h-1zM56 48h2v1h-2zM59 48h2v1h-2zM62 48h1v1h-1zM66 48h1v1h-1zM69 48h1v1h-1zM0 49h1v1h-1zM2 49h3v1h-3zM18 49h4v1h-4zM25 49h1v1h-1zM27 49h1v1h-1zM37 49h1v1h-1zM40 49h3v1h-3zM55 49h7v1h-7zM66 49h3v1h-3zM71 49h1v1h-1zM3 50h2v1h-2zM19 50h2v1h-2zM22 50h1v1h-1zM27 50h1v1h-1zM40 50h2v1h-2zM54 50h8v1h-8zM64 50h1v1h-1zM67 50h1v1h-1zM71 50h1v1h-1zM0 51h1v1h-1zM3 51h2v1h-2zM19 51h2v1h-2zM24 51h1v1h-1zM26 51h2v1h-2zM53 51h3v1h-3zM58 51h3v1h-3zM62 51h1v1h-1zM64 51h1v1h-1zM2 52h3v1h-3zM19 52h4v1h-4zM25 52h3v1h-3zM53 52h2v1h-2zM70 52h1v1h-1zM3 53h2v1h-2zM17 53h4v1h-4zM23 53h2v1h-2zM44 53h3v1h-3zM48 53h3v1h-3zM53 53h2v1h-2zM61 53h1v1h-1zM63 53h1v1h-1zM65 53h2v1h-2zM69 53h1v1h-1zM2 54h2v1h-2zM17 54h1v1h-1zM19 54h2v1h-2zM28 54h1v1h-1zM44 54h4v1h-4zM50 54h4v1h-4zM63 54h4v1h-4zM71 54h1v1h-1zM0 55h1v1h-1zM25 55h1v1h-1zM27 55h1v1h-1zM44 55h4v1h-4zM50 55h4v1h-4zM57 55h6v1h-6zM65 55h1v1h-1zM67 55h5v1h-5zM22 56h1v1h-1zM24 56h1v1h-1zM26 56h1v1h-1zM28 56h2v1h-2zM48 56h2v1h-2zM51 56h3v1h-3zM57 56h5v1h-5zM63 56h2v1h-2zM68 56h3v1h-3zM18 57h1v1h-1zM23 57h1v1h-1zM25 57h3v1h-3zM29 57h1v1h-1zM37 57h1v1h-1zM51 57h2v1h-2zM58 57h5v1h-5zM17 58h1v1h-1zM22 58h2v1h-2zM36 58h2v1h-2zM49 58h1v1h-1zM58 58h2v1h-2zM61 58h2v1h-2zM65 58h1v1h-1zM68 58h1v1h-1zM70 58h1v1h-1zM12 59h2v1h-2zM16 59h3v1h-3zM23 59h1v1h-1zM25 59h1v1h-1zM28 59h2v1h-2zM36 59h3v1h-3zM41 59h1v1h-1zM58 59h4v1h-4zM63 59h2v1h-2zM67 59h3v1h-3zM0 60h1v1h-1zM2 60h3v1h-3zM9 60h5v1h-5zM15 60h6v1h-6zM25 60h1v1h-1zM27 60h3v1h-3zM36 60h6v1h-6zM48 60h1v1h-1zM50 60h2v1h-2zM53 60h1v1h-1zM58 60h4v1h-4zM66 60h1v1h-1zM69 60h2v1h-2zM2 61h19v1h-19zM24 61h2v1h-2zM29 61h2v1h-2zM33 61h1v1h-1zM37 61h1v1h-1zM39 61h2v1h-2zM43 61h1v1h-1zM47 61h1v1h-1zM53 61h4v1h-4zM58 61h5v1h-5zM64 61h1v1h-1zM66 61h2v1h-2zM70 61h3v1h-3zM5 62h1v1h-1zM9 62h1v1h-1zM11 62h1v1h-1zM14 62h1v1h-1zM22 62h2v1h-2zM25 62h1v1h-1zM27 62h1v1h-1zM33 62h2v1h-2zM39 62h1v1h-1zM43 62h4v1h-4zM48 62h1v1h-1zM52 62h10v1h-10zM66 62h2v1h-2zM70 62h2v1h-2zM4 63h2v1h-2zM8 63h1v1h-1zM12 63h1v1h-1zM14 63h3v1h-3zM21 63h1v1h-1zM25 63h1v1h-1zM28 63h5v1h-5zM35 63h1v1h-1zM37 63h1v1h-1zM40 63h3v1h-3zM46 63h1v1h-1zM55 63h1v1h-1zM58 63h5v1h-5zM64 63h3v1h-3zM68 63h3v1h-3zM72 63h1v1h-1zM1 64h1v1h-1zM3 64h1v1h-1zM6 64h1v1h-1zM8 64h3v1h-3zM14 64h1v1h-1zM16 64h2v1h-2zM20 64h2v1h-2zM24 64h2v1h-2zM27 64h1v1h-1zM30 64h1v1h-1zM32 64h1v1h-1zM35 64h1v1h-1zM39 64h3v1h-3zM43 64h1v1h-1zM45 64h1v1h-1zM48 64h2v1h-2zM58 64h7v1h-7zM0 65h1v1h-1zM3 65h4v1h-4zM11 65h1v1h-1zM17 65h1v1h-1zM23 65h1v1h-1zM29 65h2v1h-2zM32 65h1v1h-1zM47 65h1v1h-1zM58 65h5v1h-5zM64 65h2v1h-2zM68 65h2v1h-2zM72 65h1v1h-1zM0 66h1v1h-1zM4 66h1v1h-1zM9 66h1v1h-1zM11 66h2v1h-2zM14 66h2v1h-2zM17 66h2v1h-2zM20 66h1v1h-1zM23 66h2v1h-2zM26 66h3v1h-3zM43 66h1v1h-1zM48 66h2v1h-2zM57 66h6v1h-6zM67 66h1v1h-1zM70 66h3v1h-3zM18 67h1v1h-1zM21 67h1v1h-1zM26 67h1v1h-1zM29 67h1v1h-1zM35 67h1v1h-1zM37 67h1v1h-1zM41 67h1v1h-1zM43 67h1v1h-1zM45 67h1v1h-1zM47 67h1v1h-1zM50 67h8v1h-8zM60 67h2v1h-2zM68 67h1v1h-1zM71 67h2v1h-2zM37 68h1v1h-1zM40 68h1v1h-1zM43 68h1v1h-1zM3 69h2v1h-2zM13 69h5v1h-5zM19 69h1v1h-1zM25 69h1v1h-1zM29 69h5v1h-5zM36 69h1v1h-1zM38 69h1v1h-1zM43 69h1v1h-1zM50 69h7v1h-7zM63 69h1v1h-1zM68 69h3v1h-3zM3 70h1v1h-1zM5 70h2v1h-2zM13 70h2v1h-2zM16 70h1v1h-1zM20 70h2v1h-2zM23 70h3v1h-3zM28 70h1v1h-1zM37 70h1v1h-1zM39 70h1v1h-1zM42 70h1v1h-1zM45 70h2v1h-2zM49 70h13v1h-13zM71 70h1v1h-1z"/>
<path fill="#5f01c2" d="M9 0h1v1h-1zM11 0h1v1h-1zM13 0h4v1h-4zM19 0h2v1h-2zM24 0h1v1h-1zM26 0h4v1h-4zM31 0h1v1h-1zM33 0h2v1h-2zM37 0h1v1h-1zM43 0h1v1h-1zM46 0h1v1h-1zM51 0h1v1h-1zM30 1h1v1h-1zM45 1h1v1h-1zM50 1h1v1h-1zM53 1h1v1h-1zM1 2h1v1h-1zM4 2h1v1h-1zM9 2h1v1h-1zM38 2h1v1h-1zM43 2h1v1h-1zM52 2h1v1h-1zM4 3h1v1h-1zM6 3h1v1h-1zM44 3h1v1h-1zM49 3h1v1h-1zM54 3h1v1h-1zM4 4h1v1h-1zM36 4h1v1h-1zM48 4h1v1h-1zM3 5h1v1h-1zM25 5h1v1h-1zM37 5h1v1h-1zM47 5h2v1h-2zM67 5h1v1h-1zM69 5h2v1h-2zM72 5h1v1h-1zM0 6h1v1h-1zM5 6h1v1h-1zM27 6h1v1h-1zM40 6h1v1h-1zM54 6h1v1h-1zM66 6h1v1h-1zM0 7h1v1h-1zM23 7h1v1h-1zM34 7h1v1h-1zM40 7h1v1h-1zM47 7h2v1h-2zM50 7h1v1h-1zM52 7h1v1h-1zM58 7h1v1h-1zM60 7h1v1h-1zM63 7h1v1h-1zM0 8h1v1h-1zM36 8h2v1h-2zM42 8h1v1h-1zM50 8h4v1h-4zM57 8h2v1h-2zM60 8h1v1h-1zM69 8h1v1h-1zM0 9h1v1h-1zM43 9h1v1h-1zM47 9h2v1h-2zM57 9h1v1h-1zM59 9h2v1h-2zM65 9h2v1h-2zM71 9h2v1h-2zM0 10h1v1h-1zM46 10h4v1h-4zM56 10h1v1h-1zM61 10h1v1h-1zM64 10h1v1h-1zM70 10h1v1h-1zM48 11h2v1h-2zM62 11h1v1h-1zM35 12h1v1h-1zM37 12h1v1h-1zM44 12h1v1h-1zM51 12h4v1h-4zM62 12h1v1h-1zM64 12h2v1h-2zM67 12h1v1h-1zM0 13h1v1h-1zM32 13h1v1h-1zM34 13h1v1h-1zM50 13h3v1h-3zM56 13h2v1h-2zM65 13h1v1h-1zM67 13h1v1h-1zM72 13h1v1h-1zM13 14h3v1h-3zM45 14h1v1h-1zM49 14h1v1h-1zM51 14h1v1h-1zM55 14h3v1h-3zM59 14h2v1h-2zM62 14h1v1h-1zM70 14h1v1h-1zM22 15h1v1h-1zM31 15h1v1h-1zM46 15h1v1h-1zM53 15h1v1h-1zM61 15h2v1h-2zM66 15h1v1h-1zM70 15h1v1h-1zM26 16h1v1h-1zM29 16h1v1h-1zM31 16h1v1h-1zM46 16h1v1h-1zM48 16h1v1h-1zM52 16h1v1h-1zM62 16h1v1h-1zM7 17h1v1h-1zM10 17h1v1h-1zM44 17h1v1h-1zM46 17h1v1h-1zM50 17h1v1h-1zM52 17h1v1h-1zM61 17h1v1h-1zM63 17h2v1h-2zM67 17h3v1h-3zM1 18h1v1h-1zM10 18h2v1h-2zM23 18h1v1h-1zM27 18h2v1h-2zM30 18h2v1h-2zM46 18h1v1h-1zM48 18h1v1h-1zM53 18h1v1h-1zM56 18h2v1h-2zM61 18h1v1h-1zM63 18h2v1h-2zM66 18h1v1h-1zM68 18h1v1h-1zM70 18h1v1h-1zM4 19h1v1h-1zM6 19h2v1h-2zM9 19h1v1h-1zM24 19h1v1h-1zM26 19h1v1h-1zM49 19h1v1h-1zM51 19h1v1h-1zM66 19h1v1h-1zM69 19h1v1h-1zM52 20h2v1h-2zM55 20h3v1h-3zM61 20h1v1h-1zM2 21h1v1h-1zM4 21h1v1h-1zM9 21h1v1h-1zM47 21h1v1h-1zM50 21h4v1h-4zM56 21h1v1h-1zM59 21h1v1h-1zM3 22h2v1h-2zM22 22h1v1h-1zM29 22h1v1h-1zM57 22h2v1h-2zM61 22h1v1h-1zM7 23h1v1h-1zM9 23h1v1h-1zM11 23h1v1h-1zM30 23h1v1h-1zM57 23h1v1h-1zM59 23h1v1h-1zM7 24h1v1h-1zM32 24h1v1h-1zM55 24h1v1h-1zM57 24h1v1h-1zM2 25h2v1h-2zM29 25h2v1h-2zM33 25h1v1h-1zM40 25h1v1h-1zM56 25h1v1h-1zM58 25h3v1h-3zM1 26h3v1h-3zM22 26h1v1h-1zM24 26h1v1h-1zM33 26h1v1h-1zM36 26h1v1h-1zM38 26h1v1h-1zM41 26h1v1h-1zM57 26h1v1h-1zM29 27h1v1h-1zM39 27h2v1h-2zM58 27h1v1h-1zM5 28h1v1h-1zM19 28h2v1h-2zM23 28h1v1h-1zM35 28h2v1h-2zM40 28h1v1h-1zM49 28h1v1h-1zM52 28h1v1h-1zM56 28h1v1h-1zM61 28h1v1h-1zM3 29h1v1h-1zM19 29h3v1h-3zM25 29h1v1h-1zM32 29h1v1h-1zM41 29h1v1h-1zM45 29h1v1h-1zM50 29h2v1h-2zM53 29h1v1h-1zM56 29h1v1h-1zM59 29h1v1h-1zM61 29h1v1h-1zM0 30h1v1h-1zM2 30h1v1h-1zM23 30h1v1h-1zM32 30h3v1h-3zM42 30h2v1h-2zM48 30h1v1h-1zM53 30h1v1h-1zM58 30h1v1h-1zM20 31h5v1h-5zM26 31h1v1h-1zM29 31h1v1h-1zM34 31h1v1h-1zM36 31h2v1h-2zM43 31h1v1h-1zM45 31h1v1h-1zM51 31h3v1h-3zM58 31h2v1h-2zM63 31h2v1h-2zM68 31h1v1h-1zM70 31h3v1h-3zM18 32h1v1h-1zM20 32h2v1h-2zM29 32h1v1h-1zM34 32h3v1h-3zM41 32h1v1h-1zM46 32h1v1h-1zM51 32h1v1h-1zM54 32h2v1h-2zM57 32h2v1h-2zM60 32h1v1h-1zM64 32h1v1h-1zM70 32h1v1h-1zM72 32h1v1h-1zM24 33h1v1h-1zM34 33h3v1h-3zM38 33h1v1h-1zM41 33h1v1h-1zM44 33h1v1h-1zM48 33h1v1h-1zM50 33h2v1h-2zM59 33h1v1h-1zM67 33h1v1h-1zM69 33h1v1h-1zM72 33h1v1h-1zM22 34h1v1h-1zM25 34h1v1h-1zM27 34h1v1h-1zM29 34h2v1h-2zM36 34h2v1h-2zM40 34h2v1h-2zM44 34h1v1h-1zM48 34h1v1h-1zM51 34h2v1h-2zM57 34h2v1h-2zM61 34h2v1h-2zM67 34h1v1h-1zM72 34h1v1h-1zM19 35h1v1h-1zM22 35h2v1h-2zM28 35h1v1h-1zM35 35h2v1h-2zM38 35h1v1h-1zM43 35h2v1h-2zM50 35h1v1h-1zM52 35h2v1h-2zM56 35h3v1h-3zM61 35h1v1h-1zM65 35h1v1h-1zM69 35h1v1h-1zM71 35h1v1h-1zM30 36h1v1h-1zM35 36h1v1h-1zM40 36h1v1h-1zM42 36h3v1h-3zM49 36h1v1h-1zM51 36h2v1h-2zM57 36h1v1h-1zM59 36h2v1h-2zM63 36h2v1h-2zM67 36h1v1h-1zM70 36h1v1h-1zM72 36h1v1h-1zM0 37h1v1h-1zM2 37h1v1h-1zM18 37h2v1h-2zM21 37h1v1h-1zM26 37h3v1h-3zM31 37h1v1h-1zM40 37h3v1h-3zM45 37h1v1h-1zM51 37h3v1h-3zM59 37h1v1h-1zM64 37h2v1h-2zM67 37h1v1h-1zM70 37h2v1h-2zM21 38h1v1h-1zM23 38h1v1h-1zM28 38h1v1h-1zM31 38h1v1h-1zM39 38h2v1h-2zM51 38h2v1h-2zM54 38h1v1h-1zM65 38h1v1h-1zM67 38h1v1h-1zM71 38h2v1h-2zM21 39h2v1h-2zM25 39h1v1h-1zM29 39h2v1h-2zM36 39h2v1h-2zM41 39h1v1h-1zM45 39h1v1h-1zM51 39h3v1h-3zM57 39h1v1h-1zM62 39h3v1h-3zM67 39h1v1h-1zM0 40h2v1h-2zM4 40h1v1h-1zM21 40h1v1h-1zM24 40h1v1h-1zM26 40h1v1h-1zM44 40h1v1h-1zM48 40h1v1h-1zM65 40h1v1h-1zM70 40h1v1h-1zM72 40h1v1h-1zM2 41h2v1h-2zM6 41h1v1h-1zM10 41h1v1h-1zM12 41h1v1h-1zM22 41h1v1h-1zM24 41h2v1h-2zM29 41h1v1h-1zM36 41h2v1h-2zM40 41h3v1h-3zM61 41h1v1h-1zM1 42h1v1h-1zM4 42h1v1h-1zM6 42h1v1h-1zM17 42h2v1h-2zM20 42h2v1h-2zM26 42h2v1h-2zM39 42h1v1h-1zM42 42h1v1h-1zM61 42h3v1h-3zM71 42h1v1h-1zM4 43h1v1h-1zM7 43h2v1h-2zM30 43h1v1h-1zM38 43h1v1h-1zM44 43h2v1h-2zM61 43h2v1h-2zM64 43h1v1h-1zM13 44h1v1h-1zM20 44h1v1h-1zM23 44h2v1h-2zM30 44h1v1h-1zM37 44h1v1h-1zM61 44h3v1h-3zM65 44h1v1h-1zM68 44h1v1h-1zM70 44h1v1h-1zM2 45h1v1h-1zM9 45h2v1h-2zM15 45h2v1h-2zM20 45h1v1h-1zM22 45h2v1h-2zM61 45h1v1h-1zM63 45h1v1h-1zM65 45h2v1h-2zM2 46h1v1h-1zM23 46h1v1h-1zM61 46h2v1h-2zM65 46h4v1h-4zM68 47h1v1h-1zM71 47h1v1h-1zM0 48h1v1h-1zM2 48h1v1h-1zM21 48h1v1h-1zM24 48h1v1h-1zM63 48h1v1h-1zM65 48h1v1h-1zM67 48h2v1h-2zM70 48h2v1h-2zM62 49h1v1h-1zM64 49h2v1h-2zM69 49h2v1h-2zM72 49h1v1h-1zM0 50h1v1h-1zM2 50h1v1h-1zM21 50h1v1h-1zM25 50h1v1h-1zM62 50h1v1h-1zM65 50h1v1h-1zM70 50h1v1h-1zM23 51h1v1h-1zM25 51h1v1h-1zM61 51h1v1h-1zM68 51h3v1h-3zM72 51h1v1h-1zM0 52h1v1h-1zM23 52h2v1h-2zM62 52h1v1h-1zM64 52h1v1h-1zM68 52h1v1h-1zM72 52h1v1h-1zM0 53h1v1h-1zM2 53h1v1h-1zM25 53h2v1h-2zM62 53h1v1h-1zM67 53h2v1h-2zM71 53h2v1h-2zM23 54h1v1h-1zM26 54h1v1h-1zM61 54h1v1h-1zM67 54h2v1h-2zM70 54h1v1h-1zM72 54h1v1h-1zM2 55h1v1h-1zM21 55h1v1h-1zM24 55h1v1h-1zM26 55h1v1h-1zM63 55h1v1h-1zM23 56h1v1h-1zM25 56h1v1h-1zM65 56h3v1h-3zM71 56h2v1h-2zM22 57h1v1h-1zM24 57h1v1h-1zM63 57h1v1h-1zM66 57h2v1h-2zM69 57h1v1h-1zM0 58h1v1h-1zM26 58h1v1h-1zM64 58h1v1h-1zM67 58h1v1h-1zM72 58h1v1h-1zM24 59h1v1h-1zM62 59h1v1h-1zM65 59h2v1h-2zM70 59h3v1h-3zM1 60h1v1h-1zM21 60h1v1h-1zM42 60h1v1h-1zM49 60h1v1h-1zM65 60h1v1h-1zM67 60h1v1h-1zM1 61h1v1h-1zM21 61h1v1h-1zM34 61h2v1h-2zM41 61h1v1h-1zM46 61h1v1h-1zM65 61h1v1h-1zM68 61h1v1h-1zM3 62h1v1h-1zM12 62h1v1h-1zM18 62h1v1h-1zM20 62h2v1h-2zM26 62h1v1h-1zM29 62h2v1h-2zM35 62h1v1h-1zM37 62h1v1h-1zM42 62h1v1h-1zM47 62h1v1h-1zM62 62h1v1h-1zM68 62h2v1h-2zM7 63h1v1h-1zM9 63h1v1h-1zM11 63h1v1h-1zM13 63h1v1h-1zM19 63h2v1h-2zM22 63h3v1h-3zM26 63h1v1h-1zM33 63h2v1h-2zM36 63h1v1h-1zM38 63h1v1h-1zM44 63h2v1h-2zM48 63h2v1h-2zM63 63h1v1h-1zM71 63h1v1h-1zM12 64h1v1h-1zM18 64h1v1h-1zM22 64h2v1h-2zM29 64h1v1h-1zM31 64h1v1h-1zM34 64h1v1h-1zM36 64h1v1h-1zM38 64h1v1h-1zM42 64h1v1h-1zM46 64h2v1h-2zM66 64h1v1h-1zM70 64h1v1h-1zM72 64h1v1h-1zM1 65h2v1h-2zM8 65h1v1h-1zM10 65h1v1h-1zM13 65h3v1h-3zM18 65h3v1h-3zM26 65h3v1h-3zM34 65h2v1h-2zM48 65h1v1h-1zM67 65h1v1h-1zM1 66h1v1h-1zM5 66h2v1h-2zM8 66h1v1h-1zM10 66h1v1h-1zM13 66h1v1h-1zM16 66h1v1h-1zM21 66h1v1h-1zM29 66h3v1h-3zM35 66h1v1h-1zM38 66h1v1h-1zM41 66h2v1h-2zM66 66h1v1h-1zM69 66h1v1h-1zM0 67h1v1h-1zM3 67h3v1h-3zM10 67h1v1h-1zM12 67h2v1h-2zM19 67h2v1h-2zM22 67h3v1h-3zM31 67h1v1h-1zM40 67h1v1h-1zM42 67h1v1h-1zM44 67h1v1h-1zM46 67h1v1h-1zM62 67h1v1h-1zM0 68h1v1h-1zM36 68h1v1h-1zM45 68h3v1h-3zM72 68h1v1h-1zM0 69h3v1h-3zM8 69h5v1h-5zM20 69h3v1h-3zM26 69h1v1h-1zM28 69h1v1h-1zM34 69h2v1h-2zM39 69h1v1h-1zM41 69h2v1h-2zM49 69h1v1h-1zM62 69h1v1h-1zM65 69h2v1h-2zM1 70h1v1h-1zM7 70h1v1h-1zM11 70h2v1h-2zM17 70h2v1h-2zM22 70h1v1h-1zM26 70h1v1h-1zM31 70h2v1h-2zM34 70h1v1h-1zM41 70h1v1h-1zM43 70h1v1h-1zM47 70h1v1h-1zM62 70h2v1h-2zM65 70h2v1h-2zM69 70h2v1h-2zM72 70h1v1h-1z"/>
<path fill="#6801de" d="M52 0h1v1h-1zM0 1h1v1h-1zM50 3h1v1h-1zM5 5h1v1h-1zM4 6h1v1h-1zM10 6h1v1h-1zM57 10h1v1h-1zM72 17h1v1h-1zM7 18h1v1h-1zM24 18h2v1h-2zM72 18h1v1h-1zM68 19h1v1h-1zM26 21h1v1h-1zM5 22h1v1h-1zM6 23h1v1h-1zM27 23h1v1h-1zM1 24h2v1h-2zM0 25h2v1h-2zM28 25h1v1h-1zM28 27h1v1h-1zM25 28h1v1h-1zM27 28h2v1h-2zM48 28h1v1h-1zM27 29h1v1h-1zM38 29h1v1h-1zM48 29h1v1h-1zM27 30h1v1h-1zM38 30h1v1h-1zM49 30h1v1h-1zM4 31h1v1h-1zM38 31h1v1h-1zM41 31h1v1h-1zM1 32h1v1h-1zM62 32h1v1h-1zM2 33h1v1h-1zM46 33h1v1h-1zM32 34h1v1h-1zM2 35h1v1h-1zM32 36h2v1h-2zM3 37h3v1h-3zM18 38h1v1h-1zM32 38h1v1h-1zM19 39h1v1h-1zM32 39h1v1h-1zM33 40h1v1h-1zM35 40h1v1h-1zM19 41h1v1h-1zM9 42h3v1h-3zM34 42h3v1h-3zM34 43h2v1h-2zM9 44h1v1h-1zM11 44h2v1h-2zM16 44h1v1h-1zM33 44h1v1h-1zM8 45h1v1h-1zM0 57h1v1h-1zM44 60h1v1h-1zM45 61h1v1h-1zM32 62h1v1h-1zM37 65h1v1h-1zM40 65h1v1h-1zM46 65h1v1h-1zM37 66h1v1h-1zM44 66h2v1h-2zM38 67h1v1h-1zM4 70h1v1h-1zM9 70h1v1h-1z"/>
<path fill="#6401d1" d="M54 0h1v1h-1zM6 5h1v1h-1zM72 7h1v1h-1zM60 10h1v1h-1zM59 11h1v1h-1zM56 16h1v1h-1zM71 16h2v1h-2zM26 17h1v1h-1zM29 17h1v1h-1zM45 17h1v1h-1zM70 17h1v1h-1zM29 18h1v1h-1zM71 19h1v1h-1zM6 20h1v1h-1zM25 21h1v1h-1zM27 21h1v1h-1zM28 22h1v1h-1zM6 24h1v1h-1zM26 24h3v1h-3zM27 26h1v1h-1zM37 26h1v1h-1zM1 28h1v1h-1zM26 28h1v1h-1zM39 28h1v1h-1zM47 28h1v1h-1zM0 29h1v1h-1zM31 29h1v1h-1zM46 29h1v1h-1zM3 30h1v1h-1zM28 30h1v1h-1zM41 30h1v1h-1zM2 31h2v1h-2zM40 31h1v1h-1zM49 33h1v1h-1zM61 33h1v1h-1zM46 34h1v1h-1zM1 35h1v1h-1zM32 35h1v1h-1zM46 35h1v1h-1zM3 36h2v1h-2zM39 36h1v1h-1zM33 37h1v1h-1zM33 38h1v1h-1zM18 39h1v1h-1zM18 41h1v1h-1zM33 41h1v1h-1zM12 42h1v1h-1zM9 43h1v1h-1zM10 44h1v1h-1zM7 45h1v1h-1zM1 57h1v1h-1zM21 57h1v1h-1zM2 58h1v1h-1zM43 60h1v1h-1zM36 66h1v1h-1zM40 66h1v1h-1zM46 66h1v1h-1z"/>
<path fill="#b41f04" d="M59 0h1v1h-1zM61 0h1v1h-1zM9 30h1v1h-1zM9 33h1v1h-1zM9 34h1v1h-1zM10 35h1v1h-1zM12 36h2v1h-2zM13 37h1v1h-1zM12 38h1v1h-1zM52 46h2v1h-2zM8 48h2v1h-2zM33 52h1v1h-1zM34 53h1v1h-1zM56 53h1v1h-1zM43 54h1v1h-1zM34 55h1v1h-1zM42 55h1v1h-1zM6 56h1v1h-1zM11 56h3v1h-3zM6 57h3v1h-3zM6 58h1v1h-1z"/>
<path fill="#cd4500" d="M60 0h1v1h-1zM67 0h2v1h-2zM67 1h2v1h-2zM9 31h2v1h-2zM12 37h1v1h-1zM7 50h3v1h-3zM9 51h2v1h-2zM12 51h2v1h-2zM9 52h3v1h-3zM9 53h2v1h-2zM33 54h2v1h-2zM9 55h4v1h-4z"/>
<path fill="#960bd1" d="M66 0h1v1h-1zM66 1h1v1h-1zM59 2h1v1h-1zM61 2h1v1h-1zM8 29h3v1h-3zM7 33h2v1h-2zM7 34h1v1h-1zM12 35h1v1h-1zM8 36h1v1h-1zM13 38h1v1h-1zM53 45h1v1h-1zM33 47h1v1h-1zM52 47h1v1h-1zM6 48h1v1h-1zM33 48h1v1h-1zM6 49h1v1h-1zM10 49h3v1h-3zM15 49h1v1h-1zM31 49h1v1h-1zM29 50h1v1h-1zM7 51h1v1h-1zM30 51h1v1h-1zM7 52h1v1h-1zM51 52h1v1h-1zM56 52h1v1h-1zM7 53h1v1h-1zM14 53h1v1h-1zM32 53h1v1h-1zM40 53h3v1h-3zM39 54h1v1h-1zM35 55h1v1h-1zM38 55h1v1h-1zM5 56h1v1h-1zM14 56h1v1h-1zM41 56h1v1h-1zM44 56h2v1h-2zM4 57h1v1h-1zM11 57h4v1h-4zM46 57h1v1h-1zM5 58h1v1h-1zM8 58h2v1h-2zM44 58h1v1h-1zM46 59h1v1h-1zM57 59h1v1h-1zM51 63h1v1h-1z"/>
<path fill="#7803fa" d="M1 1h1v1h-1zM0 23h1v1h-1zM25 23h1v1h-1zM0 24h1v1h-1zM28 29h1v1h-1zM39 29h1v1h-1zM39 30h1v1h-1zM5 33h1v1h-1zM5 35h1v1h-1zM47 36h1v1h-1zM34 44h1v1h-1z"/>
<path fill="#54009f" d="M5 1h1v1h-1zM8 1h1v1h-1zM16 1h1v1h-1zM31 1h1v1h-1zM35 1h1v1h-1zM44 1h1v1h-1zM47 1h1v1h-1zM18 2h3v1h-3zM22 2h2v1h-2zM25 2h1v1h-1zM32 2h1v1h-1zM40 2h2v1h-2zM53 2h1v1h-1zM11 3h1v1h-1zM15 3h1v1h-1zM19 3h1v1h-1zM23 3h1v1h-1zM25 3h1v1h-1zM27 3h1v1h-1zM34 3h2v1h-2zM45 3h3v1h-3zM8 4h1v1h-1zM14 4h2v1h-2zM24 4h2v1h-2zM29 4h1v1h-1zM33 4h2v1h-2zM38 4h1v1h-1zM42 4h1v1h-1zM8 5h5v1h-5zM14 5h1v1h-1zM18 5h1v1h-1zM21 5h1v1h-1zM27 5h1v1h-1zM32 5h2v1h-2zM40 5h1v1h-1zM62 5h1v1h-1zM71 5h1v1h-1zM8 6h1v1h-1zM11 6h1v1h-1zM18 6h1v1h-1zM23 6h1v1h-1zM26 6h1v1h-1zM30 6h1v1h-1zM32 6h3v1h-3zM41 6h1v1h-1zM46 6h1v1h-1zM48 6h1v1h-1zM7 7h1v1h-1zM15 7h1v1h-1zM22 7h1v1h-1zM24 7h2v1h-2zM28 7h1v1h-1zM30 7h1v1h-1zM35 7h2v1h-2zM38 7h2v1h-2zM2 8h1v1h-1zM10 8h1v1h-1zM12 8h2v1h-2zM16 8h1v1h-1zM20 8h2v1h-2zM24 8h1v1h-1zM35 8h1v1h-1zM40 8h1v1h-1zM44 8h1v1h-1zM65 8h2v1h-2zM1 9h2v1h-2zM7 9h1v1h-1zM9 9h1v1h-1zM15 9h2v1h-2zM23 9h2v1h-2zM26 9h1v1h-1zM30 9h2v1h-2zM41 9h1v1h-1zM68 9h1v1h-1zM1 10h4v1h-4zM9 10h1v1h-1zM16 10h1v1h-1zM22 10h3v1h-3zM33 10h2v1h-2zM39 10h1v1h-1zM41 10h1v1h-1zM50 10h1v1h-1zM54 10h1v1h-1zM63 10h1v1h-1zM6 11h2v1h-2zM9 11h1v1h-1zM11 11h1v1h-1zM13 11h1v1h-1zM20 11h1v1h-1zM26 11h1v1h-1zM33 11h1v1h-1zM38 11h2v1h-2zM63 11h1v1h-1zM66 11h1v1h-1zM1 12h1v1h-1zM5 12h3v1h-3zM9 12h1v1h-1zM15 12h1v1h-1zM17 12h1v1h-1zM27 12h1v1h-1zM33 12h1v1h-1zM40 12h1v1h-1zM46 12h1v1h-1zM4 13h1v1h-1zM7 13h2v1h-2zM11 13h1v1h-1zM16 13h1v1h-1zM18 13h1v1h-1zM23 13h1v1h-1zM25 13h1v1h-1zM27 13h1v1h-1zM58 13h1v1h-1zM68 13h1v1h-1zM2 14h1v1h-1zM4 14h1v1h-1zM6 14h1v1h-1zM23 14h1v1h-1zM30 14h1v1h-1zM39 14h1v1h-1zM43 14h1v1h-1zM46 14h1v1h-1zM6 15h1v1h-1zM9 15h1v1h-1zM16 15h1v1h-1zM23 15h1v1h-1zM29 15h1v1h-1zM33 15h1v1h-1zM3 16h1v1h-1zM16 16h1v1h-1zM20 16h3v1h-3zM33 16h1v1h-1zM37 16h1v1h-1zM5 17h2v1h-2zM11 17h3v1h-3zM17 17h1v1h-1zM20 17h1v1h-1zM22 17h2v1h-2zM32 17h1v1h-1zM37 17h1v1h-1zM39 17h1v1h-1zM41 17h1v1h-1zM9 18h1v1h-1zM17 18h2v1h-2zM20 18h2v1h-2zM36 18h1v1h-1zM59 18h1v1h-1zM16 19h1v1h-1zM20 19h1v1h-1zM22 19h1v1h-1zM32 19h1v1h-1zM35 19h3v1h-3zM12 20h1v1h-1zM15 20h1v1h-1zM17 20h3v1h-3zM34 20h1v1h-1zM37 20h1v1h-1zM40 20h1v1h-1zM46 20h1v1h-1zM11 21h1v1h-1zM16 21h4v1h-4zM21 21h2v1h-2zM33 21h2v1h-2zM37 21h1v1h-1zM40 21h1v1h-1zM42 21h2v1h-2zM9 22h1v1h-1zM14 22h1v1h-1zM16 22h1v1h-1zM32 22h1v1h-1zM40 22h1v1h-1zM13 23h1v1h-1zM17 23h1v1h-1zM20 23h1v1h-1zM32 23h1v1h-1zM42 23h1v1h-1zM60 23h1v1h-1zM13 24h1v1h-1zM17 24h1v1h-1zM19 24h1v1h-1zM34 24h1v1h-1zM41 24h1v1h-1zM18 25h1v1h-1zM20 25h1v1h-1zM20 26h1v1h-1zM18 27h1v1h-1zM20 27h1v1h-1zM4 28h1v1h-1zM20 33h1v1h-1zM26 33h1v1h-1zM66 33h1v1h-1zM18 35h1v1h-1zM24 35h1v1h-1zM19 36h1v1h-1zM29 43h1v1h-1zM21 46h1v1h-1zM1 49h1v1h-1zM42 61h1v1h-1zM1 63h1v1h-1zM1 67h1v1h-1zM1 68h1v1h-1zM7 68h1v1h-1zM9 68h1v1h-1zM11 68h2v1h-2zM14 68h3v1h-3zM22 68h2v1h-2zM25 68h1v1h-1zM31 68h1v1h-1zM65 68h1v1h-1zM69 68h1v1h-1z"/>
<path fill="#4e008c" d="M10 1h1v1h-1zM14 1h2v1h-2zM19 1h3v1h-3zM23 1h2v1h-2zM28 1h1v1h-1zM34 1h1v1h-1zM40 1h4v1h-4zM7 2h2v1h-2zM13 2h2v1h-2zM26 2h3v1h-3zM30 2h1v1h-1zM42 2h1v1h-1zM47 2h1v1h-1zM50 2h1v1h-1zM10 3h1v1h-1zM13 3h1v1h-1zM18 3h1v1h-1zM21 3h1v1h-1zM24 3h1v1h-1zM28 3h1v1h-1zM31 3h3v1h-3zM42 3h2v1h-2zM1 4h1v1h-1zM3 4h1v1h-1zM6 4h1v1h-1zM10 4h2v1h-2zM13 4h1v1h-1zM16 4h6v1h-6zM32 4h1v1h-1zM46 4h1v1h-1zM49 4h1v1h-1zM1 5h2v1h-2zM15 5h1v1h-1zM20 5h1v1h-1zM24 5h1v1h-1zM26 5h1v1h-1zM34 5h1v1h-1zM46 5h1v1h-1zM60 5h1v1h-1zM13 6h3v1h-3zM17 6h1v1h-1zM19 6h4v1h-4zM24 6h1v1h-1zM28 6h2v1h-2zM38 6h1v1h-1zM42 6h1v1h-1zM50 6h1v1h-1zM55 6h1v1h-1zM64 6h1v1h-1zM68 6h2v1h-2zM1 7h2v1h-2zM5 7h2v1h-2zM10 7h1v1h-1zM13 7h1v1h-1zM19 7h1v1h-1zM21 7h1v1h-1zM26 7h1v1h-1zM32 7h2v1h-2zM43 7h1v1h-1zM46 7h1v1h-1zM1 8h1v1h-1zM3 8h1v1h-1zM7 8h1v1h-1zM9 8h1v1h-1zM11 8h1v1h-1zM18 8h1v1h-1zM26 8h1v1h-1zM28 8h3v1h-3zM32 8h2v1h-2zM38 8h1v1h-1zM49 8h1v1h-1zM59 8h1v1h-1zM11 9h3v1h-3zM18 9h1v1h-1zM20 9h1v1h-1zM25 9h1v1h-1zM32 9h1v1h-1zM34 9h3v1h-3zM42 9h1v1h-1zM63 9h1v1h-1zM5 10h1v1h-1zM7 10h2v1h-2zM10 10h1v1h-1zM12 10h2v1h-2zM15 10h1v1h-1zM17 10h2v1h-2zM26 10h1v1h-1zM28 10h1v1h-1zM30 10h1v1h-1zM32 10h1v1h-1zM45 10h1v1h-1zM62 10h1v1h-1zM3 11h2v1h-2zM15 11h1v1h-1zM19 11h1v1h-1zM24 11h1v1h-1zM27 11h1v1h-1zM34 11h1v1h-1zM40 11h2v1h-2zM46 11h1v1h-1zM50 11h1v1h-1zM2 12h2v1h-2zM12 12h1v1h-1zM14 12h1v1h-1zM21 12h1v1h-1zM24 12h3v1h-3zM28 12h1v1h-1zM30 12h1v1h-1zM38 12h2v1h-2zM48 12h1v1h-1zM55 12h1v1h-1zM2 13h2v1h-2zM5 13h1v1h-1zM9 13h1v1h-1zM15 13h1v1h-1zM22 13h1v1h-1zM24 13h1v1h-1zM36 13h1v1h-1zM41 13h1v1h-1zM47 13h1v1h-1zM0 14h2v1h-2zM3 14h1v1h-1zM9 14h3v1h-3zM19 14h1v1h-1zM22 14h1v1h-1zM24 14h1v1h-1zM32 14h2v1h-2zM35 14h1v1h-1zM37 14h2v1h-2zM63 14h1v1h-1zM2 15h1v1h-1zM5 15h1v1h-1zM7 15h2v1h-2zM11 15h1v1h-1zM13 15h1v1h-1zM15 15h1v1h-1zM19 15h1v1h-1zM21 15h1v1h-1zM24 15h4v1h-4zM30 15h1v1h-1zM36 15h2v1h-2zM39 15h1v1h-1zM41 15h3v1h-3zM47 15h1v1h-1zM51 15h1v1h-1zM57 15h2v1h-2zM10 16h2v1h-2zM15 16h1v1h-1zM17 16h1v1h-1zM23 16h1v1h-1zM25 16h1v1h-1zM38 16h1v1h-1zM42 16h1v1h-1zM53 16h1v1h-1zM57 16h1v1h-1zM2 17h1v1h-1zM19 17h1v1h-1zM21 17h1v1h-1zM36 17h1v1h-1zM38 17h1v1h-1zM40 17h1v1h-1zM2 18h2v1h-2zM14 18h1v1h-1zM19 18h1v1h-1zM22 18h1v1h-1zM32 18h2v1h-2zM39 18h2v1h-2zM42 18h1v1h-1zM1 19h1v1h-1zM13 19h1v1h-1zM19 19h1v1h-1zM34 19h1v1h-1zM40 19h1v1h-1zM13 20h2v1h-2zM16 20h1v1h-1zM23 20h1v1h-1zM31 20h2v1h-2zM36 20h1v1h-1zM38 20h1v1h-1zM41 20h1v1h-1zM58 20h1v1h-1zM12 21h1v1h-1zM15 21h1v1h-1zM20 21h1v1h-1zM23 21h1v1h-1zM31 21h2v1h-2zM35 21h2v1h-2zM39 21h1v1h-1zM12 22h2v1h-2zM15 22h1v1h-1zM20 22h1v1h-1zM33 22h2v1h-2zM39 22h1v1h-1zM41 22h1v1h-1zM14 23h2v1h-2zM33 23h2v1h-2zM11 24h2v1h-2zM14 24h3v1h-3zM18 24h1v1h-1zM35 24h1v1h-1zM40 24h1v1h-1zM23 25h1v1h-1zM35 25h1v1h-1zM41 25h1v1h-1zM21 26h1v1h-1zM19 27h1v1h-1zM18 30h1v1h-1zM18 31h1v1h-1zM23 32h1v1h-1zM37 32h1v1h-1zM43 32h1v1h-1zM18 33h1v1h-1zM43 34h1v1h-1zM21 36h1v1h-1zM69 37h1v1h-1zM1 39h1v1h-1zM2 40h1v1h-1zM1 43h1v1h-1zM20 43h1v1h-1zM40 43h1v1h-1zM43 43h1v1h-1zM63 46h1v1h-1zM22 48h1v1h-1zM23 49h1v1h-1zM1 50h1v1h-1zM48 61h1v1h-1zM18 63h1v1h-1zM14 67h1v1h-1zM64 67h1v1h-1zM66 67h1v1h-1zM4 68h1v1h-1zM6 68h1v1h-1zM8 68h1v1h-1zM13 68h1v1h-1zM18 68h1v1h-1zM21 68h1v1h-1zM24 68h1v1h-1zM26 68h2v1h-2zM32 68h1v1h-1zM62 68h1v1h-1zM67 68h1v1h-1zM40 69h1v1h-1z"/>
<path fill="#510096" d="M11 1h2v1h-2zM18 1h1v1h-1zM22 1h1v1h-1zM26 1h2v1h-2zM29 1h1v1h-1zM32 1h2v1h-2zM39 1h1v1h-1zM5 2h1v1h-1zM12 2h1v1h-1zM15 2h3v1h-3zM21 2h1v1h-1zM24 2h1v1h-1zM29 2h1v1h-1zM31 2h1v1h-1zM35 2h1v1h-1zM37 2h1v1h-1zM46 2h1v1h-1zM5 3h1v1h-1zM8 3h1v1h-1zM12 3h1v1h-1zM16 3h2v1h-2zM20 3h1v1h-1zM22 3h1v1h-1zM29 3h2v1h-2zM40 3h2v1h-2zM9 4h1v1h-1zM12 4h1v1h-1zM22 4h2v1h-2zM26 4h3v1h-3zM30 4h2v1h-2zM35 4h1v1h-1zM44 4h2v1h-2zM47 4h1v1h-1zM51 4h1v1h-1zM64 4h1v1h-1zM13 5h1v1h-1zM16 5h2v1h-2zM19 5h1v1h-1zM22 5h2v1h-2zM28 5h4v1h-4zM35 5h1v1h-1zM39 5h1v1h-1zM42 5h1v1h-1zM58 5h2v1h-2zM61 5h1v1h-1zM63 5h3v1h-3zM1 6h1v1h-1zM9 6h1v1h-1zM12 6h1v1h-1zM16 6h1v1h-1zM25 6h1v1h-1zM31 6h1v1h-1zM35 6h1v1h-1zM37 6h1v1h-1zM44 6h1v1h-1zM61 6h1v1h-1zM3 7h2v1h-2zM9 7h1v1h-1zM11 7h2v1h-2zM14 7h1v1h-1zM16 7h3v1h-3zM20 7h1v1h-1zM27 7h1v1h-1zM29 7h1v1h-1zM31 7h1v1h-1zM54 7h1v1h-1zM67 7h1v1h-1zM4 8h3v1h-3zM17 8h1v1h-1zM19 8h1v1h-1zM22 8h2v1h-2zM25 8h1v1h-1zM27 8h1v1h-1zM31 8h1v1h-1zM3 9h4v1h-4zM8 9h1v1h-1zM10 9h1v1h-1zM14 9h1v1h-1zM17 9h1v1h-1zM19 9h1v1h-1zM21 9h2v1h-2zM27 9h3v1h-3zM33 9h1v1h-1zM37 9h1v1h-1zM40 9h1v1h-1zM44 9h2v1h-2zM50 9h1v1h-1zM62 9h1v1h-1zM6 10h1v1h-1zM11 10h1v1h-1zM14 10h1v1h-1zM19 10h3v1h-3zM27 10h1v1h-1zM31 10h1v1h-1zM38 10h1v1h-1zM53 10h1v1h-1zM2 11h1v1h-1zM5 11h1v1h-1zM10 11h1v1h-1zM14 11h1v1h-1zM16 11h3v1h-3zM21 11h3v1h-3zM25 11h1v1h-1zM28 11h4v1h-4zM45 11h1v1h-1zM51 11h1v1h-1zM70 11h1v1h-1zM4 12h1v1h-1zM8 12h1v1h-1zM10 12h2v1h-2zM13 12h1v1h-1zM16 12h1v1h-1zM19 12h2v1h-2zM22 12h2v1h-2zM34 12h1v1h-1zM45 12h1v1h-1zM49 12h1v1h-1zM60 12h1v1h-1zM6 13h1v1h-1zM10 13h1v1h-1zM12 13h3v1h-3zM17 13h1v1h-1zM19 13h2v1h-2zM26 13h1v1h-1zM28 13h1v1h-1zM30 13h1v1h-1zM37 13h2v1h-2zM5 14h1v1h-1zM7 14h2v1h-2zM12 14h1v1h-1zM16 14h3v1h-3zM20 14h1v1h-1zM25 14h2v1h-2zM28 14h1v1h-1zM31 14h1v1h-1zM34 14h1v1h-1zM41 14h2v1h-2zM58 14h1v1h-1zM1 15h1v1h-1zM3 15h1v1h-1zM10 15h1v1h-1zM12 15h1v1h-1zM14 15h1v1h-1zM17 15h2v1h-2zM20 15h1v1h-1zM32 15h1v1h-1zM34 15h2v1h-2zM38 15h1v1h-1zM40 15h1v1h-1zM48 15h1v1h-1zM4 16h3v1h-3zM12 16h3v1h-3zM18 16h2v1h-2zM24 16h1v1h-1zM32 16h1v1h-1zM34 16h3v1h-3zM39 16h3v1h-3zM43 16h1v1h-1zM50 16h1v1h-1zM3 17h1v1h-1zM9 17h1v1h-1zM14 17h3v1h-3zM18 17h1v1h-1zM24 17h1v1h-1zM33 17h3v1h-3zM42 17h1v1h-1zM55 17h1v1h-1zM6 18h1v1h-1zM12 18h2v1h-2zM15 18h2v1h-2zM34 18h2v1h-2zM37 18h2v1h-2zM41 18h1v1h-1zM10 19h3v1h-3zM14 19h2v1h-2zM17 19h2v1h-2zM21 19h1v1h-1zM27 19h1v1h-1zM29 19h1v1h-1zM33 19h1v1h-1zM38 19h2v1h-2zM41 19h2v1h-2zM57 19h1v1h-1zM20 20h3v1h-3zM33 20h1v1h-1zM35 20h1v1h-1zM39 20h1v1h-1zM42 20h2v1h-2zM64 20h2v1h-2zM13 21h2v1h-2zM38 21h1v1h-1zM41 21h1v1h-1zM55 21h1v1h-1zM64 21h1v1h-1zM17 22h3v1h-3zM31 22h1v1h-1zM35 22h1v1h-1zM37 22h2v1h-2zM42 22h1v1h-1zM44 22h2v1h-2zM56 22h1v1h-1zM59 22h1v1h-1zM62 22h2v1h-2zM16 23h1v1h-1zM18 23h2v1h-2zM31 23h1v1h-1zM35 23h1v1h-1zM41 23h1v1h-1zM62 23h4v1h-4zM20 24h1v1h-1zM64 24h2v1h-2zM16 25h2v1h-2zM19 25h1v1h-1zM63 25h1v1h-1zM6 26h1v1h-1zM18 26h2v1h-2zM56 26h1v1h-1zM6 27h1v1h-1zM64 27h4v1h-4zM31 28h1v1h-1zM68 30h1v1h-1zM19 31h1v1h-1zM66 31h1v1h-1zM28 32h1v1h-1zM44 32h1v1h-1zM69 32h1v1h-1zM0 34h1v1h-1zM20 35h1v1h-1zM27 35h1v1h-1zM43 38h1v1h-1zM57 40h1v1h-1zM28 41h1v1h-1zM54 41h1v1h-1zM57 41h1v1h-1zM57 42h1v1h-1zM2 43h1v1h-1zM15 43h1v1h-1zM41 43h2v1h-2zM57 43h1v1h-1zM2 44h2v1h-2zM27 44h1v1h-1zM40 44h3v1h-3zM58 44h1v1h-1zM69 44h1v1h-1zM41 45h2v1h-2zM40 46h3v1h-3zM44 46h1v1h-1zM57 46h1v1h-1zM1 47h1v1h-1zM4 47h1v1h-1zM40 47h2v1h-2zM44 47h1v1h-1zM1 48h1v1h-1zM37 48h1v1h-1zM58 48h1v1h-1zM39 50h1v1h-1zM1 53h1v1h-1zM27 53h1v1h-1zM18 54h1v1h-1zM22 54h1v1h-1zM27 54h1v1h-1zM48 54h2v1h-2zM48 55h2v1h-2zM28 57h1v1h-1zM27 58h2v1h-2zM27 59h1v1h-1zM39 59h2v1h-2zM36 61h1v1h-1zM50 61h3v1h-3zM57 61h1v1h-1zM56 63h2v1h-2zM15 64h1v1h-1zM39 66h1v1h-1zM6 67h2v1h-2zM11 67h1v1h-1zM58 67h2v1h-2zM65 67h1v1h-1zM2 68h2v1h-2zM5 68h1v1h-1zM10 68h1v1h-1zM17 68h1v1h-1zM19 68h2v1h-2zM28 68h3v1h-3zM33 68h3v1h-3zM50 68h12v1h-12zM63 68h2v1h-2zM66 68h1v1h-1zM68 68h1v1h-1zM70 68h2v1h-2zM57 69h5v1h-5z"/>
<path fill="#c13000" d="M60 1h1v1h-1zM10 30h2v1h-2zM9 32h2v1h-2zM10 33h1v1h-1zM10 34h1v1h-1zM9 35h1v1h-1zM7 49h3v1h-3zM32 49h1v1h-1zM10 50h5v1h-5zM30 50h3v1h-3zM11 51h1v1h-1zM14 51h1v1h-1zM32 52h1v1h-1zM11 53h3v1h-3zM33 53h1v1h-1zM35 54h1v1h-1zM13 55h1v1h-1zM33 55h1v1h-1zM39 55h3v1h-3zM8 56h3v1h-3zM45 58h1v1h-1zM55 58h2v1h-2z"/>
<path fill="#7302f5" d="M58 10h2v1h-2zM25 22h1v1h-1zM5 34h1v1h-1zM4 35h1v1h-1zM5 36h1v1h-1zM46 36h1v1h-1zM0 56h2v1h-2z"/>
<path fill="#6b01e3" d="M60 16h1v1h-1zM25 17h1v1h-1zM1 23h1v1h-1zM26 25h1v1h-1zM0 28h1v1h-1zM41 28h1v1h-1zM22 30h1v1h-1zM2 32h1v1h-1zM62 33h1v1h-1zM5 38h1v1h-1zM35 38h1v1h-1zM33 42h1v1h-1zM48 43h1v1h-1zM2 56h1v1h-1zM44 65h2v1h-2zM8 70h1v1h-1z"/>
<path fill="#e48100" d="M8 51h1v1h-1zM32 51h1v1h-1zM10 54h2v1h-2z"/>
<path fill="#d96000" d="M31 51h1v1h-1zM12 52h3v1h-3zM12 54h2v1h-2zM8 55h1v1h-1z"/>
<path fill="#eea900" d="M8 54h2v1h-2z"/>
</g>
<g fill="none" stroke="#08a0ff" stroke-width="1" stroke-linejoin="round" shape-rendering="crispEdges">
<polyline points="75.9,97.5 81.5,99.8 86.5,101.5 83.0,105.6"/>
<polyline points="75.2,104.4 79.0,103.5 83.0,103.8"/>
<polyline points="92.1,98.8 95.2,95.6 100.2,93.5 104.0,92.5 110.2,92.5 116.5,93.5 121.5,94.4 126.5,95.6 131.5,96.2 135.2,95.0 139.0,93.5 144.0,95.6 149.0,95.6 154.0,96.2"/>
<polyline points="92.1,98.8 94.0,100.0 98.4,101.2 90.9,103.1 94.6,103.8 99.0,105.6 95.2,108.1 94.0,110.6 95.2,113.8 97.1,116.2 99.0,118.1 102.8,118.8 99.0,122.5 97.1,125.6"/>
<polyline points="100.9,121.9 106.5,117.5 110.2,115.0 114.0,113.8 119.0,114.4 124.0,114.4 129.0,116.2 132.8,118.1 135.2,121.2 137.8,125.6 141.5,130.0 142.8,132.5 145.2,136.2 147.8,138.8"/>
<polyline points="107.8,118.8 110.2,120.6"/>
<polyline points="134.6,128.8 135.2,129.5"/>
<polyline points="77.5,132.2 79.6,131.9"/>
<polyline points="81.8,131.2 82.8,131.0"/>
<polyline points="86.5,130.2 87.5,130.0"/>
<polyline points="90.0,128.5 91.8,127.1"/>
<polyline points="148.1,81.4 151.5,80.4 155.6,79.2"/>
<polyline points="159.0,78.6 162.8,77.3 164.0,77.3"/>
<polyline points="155.2,82.0 157.1,81.1 159.6,82.6 161.2,83.2 164.6,80.1 167.8,83.6 164.6,84.2 160.9,84.8 159.0,85.1 156.5,84.2 155.2,82.0"/>
<polyline points="169.0,75.8 170.9,76.7 173.4,77.9 176.5,80.1 177.8,81.4 176.5,82.6 174.6,82.9 175.2,81.1"/>
<polyline points="179.0,77.3 179.6,78.2"/>
<polyline points="180.9,80.1 182.8,80.8 184.0,80.1"/>
<polyline points="181.4,83.1 181.8,83.5"/>
<polyline points="146.5,87.0 149.0,85.4 150.9,86.7 151.5,89.2 162.8,89.2 165.2,87.3 167.8,90.1 168.4,92.0"/>
<polyline points="146.5,87.0 147.4,90.4 149.0,91.4"/>
<polyline points="172.8,88.2 175.2,86.4 177.1,88.2 176.5,90.8 174.0,90.1 172.8,88.2"/>
<polyline points="181.5,88.2 184.0,86.4"/>
<polyline points="187.1,71.4 190.2,69.5 199.0,69.2 200.2,68.2 204.6,67.3 214.6,67.3 215.2,68.2 219.0,68.6 220.2,70.1 221.5,71.4 224.0,70.1"/>
<polyline points="187.1,71.4 195.9,71.7 197.8,72.6 204.6,72.3"/>
<polyline points="193.4,74.5 199.6,74.2"/>
<polyline points="191.5,76.7 195.2,75.4 196.5,76.7 193.4,77.9 192.1,79.5 190.2,80.8 187.8,82.0 187.1,82.6"/>
<polyline points="219.6,70.1 219.0,73.9 216.5,75.8 214.0,77.3 211.5,78.6 213.4,79.5 216.5,78.6"/>
<polyline points="214.6,71.4 211.5,73.9 209.0,74.5 205.2,75.4 204.0,77.0 201.5,78.2 199.6,79.5 202.8,80.8"/>
<polyline points="184.0,81.4 187.1,81.4 190.2,80.8 199.6,81.4 195.2,82.6 190.2,82.6 184.0,83.2"/>
<polyline points="185.2,83.9 189.6,85.1 195.9,85.4 199.6,84.2 200.9,83.9"/>
<polyline points="211.5,80.1 215.2,82.3 219.0,82.0 221.5,81.4 224.0,82.0"/>
<polyline points="193.4,85.8 192.1,88.2 188.4,91.4"/>
<polyline points="193.4,85.8 192.8,90.1 193.4,92.0"/>
<polyline points="194.0,88.2 199.6,88.2 200.9,89.5 205.2,89.5 207.8,90.8 209.0,92.0"/>
<polyline points="184.0,86.4 184.6,88.2"/>
<polyline points="144.0,96.4 147.1,95.4 150.2,95.4 153.4,97.3 156.5,98.2 159.6,99.2 162.8,100.1 165.2,101.4 166.5,98.9 168.4,97.9 170.2,99.5 174.0,98.2 177.1,98.6 180.2,101.4 181.5,99.5 182.8,95.8 184.0,94.5"/>
<polyline points="155.2,92.0 156.5,94.5 157.8,96.4 165.2,96.4 169.0,97.0 172.8,96.4 173.4,95.1 170.2,93.2 169.0,92.0"/>
<polyline points="179.0,92.0 181.5,93.9 184.0,95.1"/>
<polyline points="145.2,101.4 145.2,103.9 150.2,104.5 152.1,102.6 153.4,101.4"/>
<polyline points="146.5,102.0 150.9,102.3"/>
<polyline points="149.6,106.4 152.8,108.2 155.9,110.1 160.9,110.1 163.4,109.5"/>
<polyline points="151.5,112.3 160.2,112.3 160.9,110.8"/>
<polyline points="159.0,118.2 162.8,116.4 166.5,116.7 171.5,117.6 172.8,119.5 172.8,121.4"/>
<polyline points="175.2,121.4 177.8,120.1"/>
<polyline points="180.2,106.4 184.0,107.0"/>
<polyline points="184.0,111.4 181.5,113.9 180.2,117.0 182.1,119.5 184.0,120.8"/>
<polyline points="184.0,93.9 186.5,96.7 189.6,98.2 192.8,98.2 194.6,96.4 197.8,95.4 201.5,94.5 203.4,95.8 204.6,97.6 207.8,98.9 210.9,100.8 212.1,101.4 209.0,102.6 205.9,104.8 203.4,106.4 205.9,107.3 209.6,107.6 212.8,110.1 215.9,108.9 219.6,108.6 217.8,106.4 215.9,103.9 218.4,102.6 221.5,103.2 220.9,100.1 217.8,97.0 215.2,95.1 212.1,93.2 209.6,92.0"/>
<polyline points="189.0,92.0 190.2,94.5 194.0,95.1 195.9,96.1"/>
<polyline points="197.1,97.0 196.5,98.9 193.4,101.4 190.2,103.2 187.1,105.8 184.0,109.5"/>
<polyline points="194.0,103.2 193.4,108.9 195.9,108.2 197.8,107.0 194.0,103.2"/>
<polyline points="199.9,110.1 200.6,110.8"/>
<polyline points="202.8,122.0 202.8,111.4 205.9,112.0 210.9,112.6 212.8,115.1 215.2,118.2 219.0,116.4 221.5,118.2 224.0,121.4"/>
<polyline points="184.0,121.4 185.9,120.8"/>
<polyline points="224.0,70.1 231.5,69.5 242.8,68.9 250.2,67.0 260.2,66.4 269.0,67.6 267.8,69.5 267.8,72.0 275.2,72.0 282.8,71.4 277.8,73.2 274.6,76.4 275.9,79.5 272.8,81.4 273.4,83.9 270.2,86.4 267.1,88.2 271.5,90.8 267.1,92.0 265.2,93.9 269.0,95.8 265.2,97.0 259.6,97.6 257.1,100.1 254.0,102.6 250.2,104.5 247.8,107.0 245.9,112.0 245.2,115.1 244.6,113.9 239.6,113.2 238.4,111.4 236.5,107.0 234.6,103.2 232.8,100.1 235.2,97.0 234.6,93.2 231.5,91.4 230.2,88.2 229.0,85.1 224.0,82.0"/>
<polyline points="270.9,103.2 273.4,102.0 279.6,101.4 280.9,105.1 276.5,107.6 272.8,107.0 270.9,103.2"/>
<polyline points="289.0,92.1 289.5,92.6"/>
<polyline points="297.8,113.2 299.0,114.5"/>
<polyline points="202.8,111.9 202.8,125.0 201.5,131.2 197.8,129.4 192.8,125.0 189.0,122.5 184.0,121.2"/>
<polyline points="202.8,111.9 210.2,111.9 215.2,117.5 220.2,116.2 226.5,125.0 229.6,130.6 226.5,133.1 221.5,136.2 215.2,138.1 210.9,141.2 202.8,146.9 197.8,150.0 196.5,147.5 192.8,142.5 189.0,137.5 184.0,140.0"/>
<polyline points="226.5,133.8 230.9,132.5 232.1,137.5 233.4,143.1 228.4,142.5 226.5,137.5 226.5,133.8"/>
<polyline points="214.6,138.8 219.0,140.0 221.5,142.5 224.0,142.5"/>
<polyline points="215.2,141.2 212.8,146.2 209.0,152.5 204.6,160.0"/>
<polyline points="184.0,106.2 189.0,102.5 194.0,100.0"/>
<polyline points="194.0,103.8 197.8,109.4 194.6,108.8 194.0,103.8"/>
<polyline points="204.0,105.6 211.5,101.2 212.8,100.0"/>
<polyline points="204.0,105.6 212.8,110.0 217.8,108.8 221.5,103.8 220.2,100.0"/>
<polyline points="184.0,108.8 186.5,107.5"/>
<polyline points="199.0,122.5 200.9,123.8"/>
<polyline points="134.0,120.0 136.5,123.8 140.2,127.5 142.8,132.5 145.2,136.2 146.5,138.8 144.6,141.2 144.0,145.0 144.6,152.5 147.8,160.0 151.5,166.2 154.0,171.2 155.2,176.2 156.5,180.0"/>
<polyline points="156.5,176.2 159.0,178.8 160.2,180.0"/>
<polyline points="172.8,120.0 172.8,123.1 176.5,121.2"/>
<polyline points="182.8,120.0 190.2,123.1 195.2,127.5 200.2,131.9 202.1,128.8 202.8,121.9 199.0,122.5"/>
<polyline points="175.2,131.2 177.1,127.5 178.4,135.0"/>
<polyline points="180.2,138.1 184.6,134.4"/>
<polyline points="185.2,138.8 189.0,137.5 196.5,143.1 197.8,150.0 194.0,146.2 190.2,149.4 191.5,142.5 186.5,141.2"/>
<polyline points="197.8,150.0 204.0,147.5 209.0,144.4 214.0,140.0"/>
<polyline points="214.0,146.2 210.2,152.5 205.2,160.0 202.1,165.0 200.2,170.0 199.0,175.0 197.8,180.0"/>
<polyline points="158.4,151.9 159.6,151.2"/>
<polyline points="180.2,180.0 186.5,177.5 191.5,176.9 195.2,179.4"/>
<polyline points="155.2,175.0 159.0,176.2 162.8,187.5 161.5,188.1 157.8,177.5 155.2,175.0"/>
<polyline points="154.0,175.0 159.0,182.5 166.5,190.0 170.2,196.2 173.4,201.9 179.0,205.0 185.2,208.8 191.5,213.1 196.5,220.0 201.5,221.2 203.4,222.5 202.8,230.0"/>
<polyline points="200.2,170.0 199.6,182.5 195.2,179.4 189.6,176.2 184.0,178.1 180.2,179.4 178.4,183.8 178.4,190.0 179.0,196.2 184.0,199.4 186.5,198.1 191.5,194.4 190.2,196.2 189.6,202.5 192.8,207.5 195.2,212.5 197.1,220.0 201.5,221.2"/>
<polyline points="194.0,194.4 197.1,193.1 202.8,195.0 207.8,197.5 203.4,196.2 196.5,195.0 194.0,194.4"/>
<polyline points="206.5,201.2 212.8,199.4 211.5,200.6 206.5,201.2"/>
<polyline points="216.2,201.0 216.9,201.5"/>
<polyline points="201.9,202.9 202.5,203.4"/>
<polyline points="201.5,187.5 205.2,188.8"/>
<polyline points="204.0,221.2 211.5,215.0 214.0,217.5 221.5,220.0 226.5,223.8 231.5,228.8"/>
<polyline points="196.5,220.0 203.4,221.9 202.8,227.5 200.9,238.8 199.6,246.2 200.9,257.5 204.0,266.2 206.5,270.0 211.5,277.5 212.8,280.0"/>
<polyline points="222.8,220.0 230.2,226.2 236.5,237.5 241.5,243.1 246.5,245.0 251.5,250.0 256.5,255.0 254.0,260.0 251.5,268.8 249.6,276.2 249.0,280.0"/>
<polyline points="211.5,280.0 210.9,297.5 209.6,307.5 208.4,313.8 208.4,340.0"/>
<polyline points="249.0,280.0 248.4,285.0 244.0,287.5 239.0,291.2 237.8,297.5 235.2,305.0 230.2,311.2 222.8,320.0 219.0,327.5 214.6,335.0 214.0,340.0"/>
<polyline points="208.4,340.0 207.8,342.5 210.2,347.5 212.1,351.2 217.8,351.9 213.4,347.5 212.8,340.0"/>
<polyline points="225.2,344.4 227.1,344.8"/>
<polyline points="184.0,389.7 202.8,387.8 212.1,387.8"/>
<polyline points="212.1,387.8 216.8,374.7 223.4,370.9 226.2,373.8 222.4,384.1 223.4,392.5"/>
<polyline points="206.5,385.0 214.0,380.3 212.1,387.8"/>
<polyline points="196.2,397.2 208.4,394.4 223.4,392.5 240.2,397.2 257.1,398.1 259.0,402.8 244.0,403.8 227.1,406.6 208.4,404.7 196.2,397.2"/>
<polyline points="219.6,403.8 234.6,400.0 242.1,400.0 244.0,402.8"/>
<polyline points="257.1,398.1 266.5,393.4 277.8,388.8 289.0,385.0 296.5,381.2 304.0,380.3"/>
<polyline points="289.0,385.0 296.5,385.9 304.0,384.1"/>
<polyline points="76.8,399.4 96.5,399.4 103.1,398.1"/>
<polyline points="96.5,399.4 99.3,402.2"/>
<polyline points="76.8,412.8 87.1,412.8 94.6,414.1 105.9,414.1 115.2,414.6 111.5,408.4 108.7,403.8 110.6,397.2 115.2,395.3 126.5,393.4 135.9,391.6 143.4,389.7 150.9,390.2 156.5,391.6 161.2,393.4 167.8,392.1 173.4,389.7 176.2,388.4 179.0,389.1 194.0,389.3"/>
<polyline points="264.0,396.6 274.2,390.5 284.3,386.4 290.4,383.4 297.5,380.3 304.6,382.8 324.9,382.8 333.1,382.3 341.2,380.3 347.3,381.9 353.4,378.3 365.6,374.6 375.7,377.3 385.9,379.9 394.0,380.3"/>
<polyline points="284.3,386.8 296.5,386.4 304.6,383.4"/>
<polyline points="324.9,384.4 332.1,383.8"/>
<polyline points="385.9,379.9 386.9,382.8 394.0,382.3"/>
<polyline points="384.0,379.2 388.4,380.8 392.8,381.9 397.1,379.7 405.9,375.8 421.2,374.9 438.7,374.4 447.4,376.4 456.2,374.4 469.3,374.9 480.2,377.1 493.4,379.7 502.1,381.4 510.9,386.2 506.5,390.6 504.3,396.1 502.1,399.4 506.5,403.8 513.1,408.1 517.4,410.3"/>
<polyline points="502.1,399.4 510.9,397.2 524.0,399.4"/>
<polyline points="384.0,380.8 386.2,383.0 389.5,381.9"/>
<polyline points="295.0,138.8 300.0,136.2 305.0,132.5 308.8,125.0 310.0,123.1 313.8,123.8 315.0,127.5 317.5,128.1 321.2,126.2 325.0,122.5 330.0,118.8 335.0,116.2 330.0,116.2 327.5,111.2 326.2,106.9 329.4,104.4"/>
<polyline points="329.4,104.4 323.8,109.4 323.1,116.2 318.8,123.1 313.8,119.4 310.6,120.0 307.5,118.1 306.2,116.2 308.8,110.0 312.5,106.2 317.5,101.2 321.2,97.5 327.5,95.0 334.4,93.1 336.2,95.6 342.5,98.1 348.8,100.6 351.2,101.2 355.0,103.8 356.2,98.8 360.0,100.0"/>
<polyline points="340.0,102.5 343.8,106.2 351.2,106.2 355.0,103.8"/>
<polyline points="291.2,118.1 292.5,120.0 290.0,121.2 291.2,123.8 288.1,127.5 288.8,131.2 292.5,130.0 295.0,135.0 300.0,133.8 301.2,132.5 297.5,127.5 295.6,121.2 293.8,119.4 291.2,118.1"/>
<polyline points="289.1,92.2 289.8,92.8"/>
<polyline points="297.2,113.5 298.8,114.5"/>
<polyline points="280.0,104.4 280.6,106.2"/>
<polyline points="320.6,80.0 321.9,81.2"/>
<polyline points="288.8,130.0 290.0,132.5"/>
<polyline points="293.8,130.0 296.2,133.8 295.0,135.6 301.2,133.1 306.2,130.0"/>
<polyline points="295.0,138.1 297.5,141.9 298.1,144.4 292.5,148.8 289.4,153.8 288.8,157.5 291.2,162.5 293.8,163.8 297.5,162.5 300.0,158.8 302.5,153.8 308.8,149.4 312.5,151.2 317.5,155.6 321.2,156.9 325.0,160.0 328.1,162.5"/>
<polyline points="316.9,147.5 322.5,156.9 318.8,155.0 316.9,147.5"/>
<polyline points="328.1,156.2 330.0,161.2"/>
<polyline points="310.4,154.4 311.2,156.9"/>
<polyline points="316.2,160.0 318.8,160.6"/>
<polyline points="328.1,156.9 332.5,155.6 336.2,146.2 338.8,145.0 340.0,145.6"/>
<polyline points="332.5,156.2 335.0,161.2 340.0,163.8"/>
<polyline points="280.0,190.0 285.0,177.5 291.2,165.6 301.2,163.8 308.8,162.5 312.5,163.1 313.8,168.8 318.8,172.5 324.4,176.2 328.8,172.5 335.0,174.4 340.0,176.2"/>
<polyline points="329.1,165.4 329.6,166.2"/>
<polyline points="340.0,146.2 349.4,142.5 348.1,155.0 343.8,155.6 340.0,153.8"/>
<polyline points="360.6,143.1 364.4,142.5 365.0,152.5 366.2,160.0 360.6,159.4 359.4,151.2 360.6,143.1"/>
<polyline points="373.8,144.4 376.2,143.1 376.9,145.0 374.4,149.4 373.8,144.4"/>
<polyline points="391.2,147.5 398.8,143.1"/>
<polyline points="394.1,152.2 394.8,152.9"/>
<polyline points="340.0,165.0 344.4,166.9 340.0,173.8"/>
<polyline points="340.0,180.0 343.8,185.0 346.2,190.0"/>
<polyline points="361.2,178.1 363.8,185.0 367.5,187.5 375.0,188.1 380.0,190.0"/>
<polyline points="353.1,74.4 358.8,73.1 362.5,73.8"/>
<polyline points="376.2,73.1 380.0,71.9"/>
<polyline points="385.0,80.0 377.5,83.1 370.0,86.2 365.6,89.4 367.5,92.5 371.2,93.8"/>
<polyline points="340.0,96.2 347.5,100.0 351.2,101.2 342.5,102.5 343.8,106.2 351.2,106.9 355.6,100.0 362.5,98.1 375.0,96.9 383.8,95.0 385.0,92.5 389.4,91.2 391.2,95.0 392.5,98.8 390.0,101.2 386.2,101.9"/>
<polyline points="392.5,90.6 395.0,93.8 396.2,92.5 400.0,92.5 402.5,93.8"/>
<polyline points="396.2,91.2 400.0,88.8 407.5,85.0 413.8,82.5 420.0,81.9"/>
<polyline points="382.5,101.2 387.5,101.2 395.0,97.5 398.8,101.2"/>
<polyline points="415.0,73.8 420.0,72.5"/>
<polyline points="420.0,80.8 425.0,79.2 430.0,80.8 438.3,83.3 433.3,85.8 440.0,87.5 455.8,87.5 458.3,90.8 462.5,91.7 468.3,90.0 475.0,89.2 482.5,89.2 488.3,91.7 495.0,93.3 503.3,95.0 511.7,94.7 520.0,95.8 524.2,96.7"/>
<polyline points="420.0,74.2 425.0,75.0 425.8,77.5"/>
<polyline points="470.0,83.3 475.0,82.5 483.3,84.2 473.3,85.0"/>
<polyline points="524.2,103.3 520.0,109.2 513.3,112.5 503.3,115.0 498.3,112.5 493.3,111.7 491.7,115.0 486.7,115.8 478.3,116.7 474.2,118.3 470.0,127.5 473.3,130.0 476.7,133.3 475.0,140.0 470.0,145.0 465.0,150.0"/>
<polyline points="474.2,129.2 475.0,140.0 476.7,150.0"/>
<polyline points="476.7,126.7 478.3,136.7 477.5,146.7"/>
<polyline points="493.3,111.7 494.2,118.3 493.3,133.3 498.3,126.7 503.3,116.7 503.3,111.7"/>
<polyline points="513.0,128.8 513.7,129.7"/>
<polyline points="519.2,131.7 519.8,132.5"/>
<polyline points="473.3,140.0 468.3,145.0 461.7,152.5 460.0,158.3 457.5,165.0 455.0,157.5 450.8,155.0 445.8,159.2 450.0,161.7 449.2,173.3 448.3,185.0 451.7,186.7 445.0,190.0 440.0,192.5 435.0,193.3 433.3,198.3 432.5,210.0 432.5,216.7 428.3,216.7 423.3,211.7 420.0,206.7"/>
<polyline points="476.7,140.0 474.2,151.7 475.0,160.0 473.3,165.0 465.8,166.7 460.8,170.0 462.5,173.3 465.0,167.5 470.0,163.3 473.3,157.5 473.3,153.3 477.5,150.0 478.3,146.7"/>
<polyline points="449.2,200.8 451.7,200.0 452.5,208.3 450.0,210.0 449.2,200.8"/>
<polyline points="447.5,215.8 448.3,217.5"/>
<polyline points="455.0,217.5 455.8,220.0"/>
<polyline points="390.0,205.0 394.2,220.0 399.2,213.3 401.7,205.8 406.7,200.0"/>
<polyline points="398.3,220.8 399.2,225.8"/>
<polyline points="415.8,200.0 420.8,207.5 420.0,215.0 423.3,225.0 425.8,230.8"/>
<polyline points="423.3,210.8 428.3,216.7 432.5,217.5 433.7,210.0 433.7,200.0"/>
<polyline points="449.2,200.0 450.0,209.2 452.5,208.3 451.7,200.0"/>
<polyline points="447.5,216.7 448.3,215.8"/>
<polyline points="416.7,225.8 425.8,244.2 430.8,244.2 427.5,236.7 425.0,230.8 416.7,225.8"/>
<polyline points="435.0,240.8 445.0,225.0 446.7,233.3 442.5,245.0 435.0,240.8"/>
<polyline points="431.7,251.7 435.0,254.2 441.7,254.2 433.3,252.5"/>
<polyline points="453.3,224.2 455.8,218.3 455.8,225.0 453.3,224.2"/>
<polyline points="462.5,241.7 475.8,243.3 486.7,259.2 476.7,255.0 466.7,246.7 462.5,241.7"/>
<polyline points="464.5,261.5 468.2,263.8 471.2,272.0 475.8,260.8 479.5,269.0 484.0,279.5 489.2,292.2 487.8,303.5 486.2,310.2 480.2,317.8 474.2,316.2 469.8,309.5 462.2,302.8 455.5,305.0 449.5,307.2 443.5,306.5 442.0,302.0 441.2,287.0 442.8,281.8 448.0,278.0 452.5,274.2 456.2,268.2 459.2,269.0 461.5,266.0 464.5,261.5"/>
<polyline points="479.5,322.2 481.8,326.0 483.2,324.5"/>
<polyline points="514.8,308.0 516.2,312.5 519.2,319.2"/>
<polyline points="514.0,321.5 514.8,324.5 511.0,330.5 509.5,332.0"/>
<polyline points="503.2,279.2 503.8,280.1"/>
<polyline points="520.8,273.5 522.2,272.0"/>
<polyline points="289.5,170.0 285.6,176.2 281.7,184.1 279.4,191.9 279.4,201.2 280.2,212.2 282.5,220.0 287.2,224.7 293.4,229.4 301.2,227.8 307.5,230.9 310.6,237.2 313.0,245.0"/>
<polyline points="314.5,170.0 320.0,173.1 324.7,176.2 329.4,172.3 338.8,174.7 341.9,170.0"/>
<polyline points="338.8,174.7 341.9,182.5 346.6,193.4 351.2,210.6 352.8,215.3 363.8,215.3 360.6,224.7 354.4,237.2 349.7,245.0"/>
<polyline points="340.3,177.8 345.0,185.6 349.7,198.1 352.8,207.5 359.1,211.4 363.8,207.5 370.0,204.4"/>
<polyline points="361.4,178.6 363.8,184.1 370.0,188.8"/>
<polyline points="340.3,238.0 341.1,243.4"/>
<polyline points="312.7,240.0 315.0,249.4 316.6,260.3 315.0,269.7 315.0,277.5 317.3,286.9 320.5,297.8 323.6,311.1 332.2,308.8 336.9,302.5 341.6,294.7 344.7,283.8 348.6,268.1 349.4,254.1 350.9,246.2 354.1,240.0"/>
<polyline points="354.1,277.5 360.3,264.2 361.1,278.3 354.8,290.0 354.1,277.5"/>
<polyline points="340.8,240.0 341.6,245.5"/>
<polyline points="361.2,178.1 364.4,184.4 371.2,187.5 380.0,188.8 388.8,196.9 390.6,202.5"/>
<polyline points="405.0,201.2 411.9,194.4 420.0,206.2 421.2,210.0"/>
<polyline points="361.2,178.1 363.8,185.0 368.8,190.0 371.9,191.9 371.2,198.8 367.5,203.8 362.5,208.8 357.5,211.2 355.0,210.6"/>
<polyline points="355.0,215.0 363.1,214.4 362.5,225.0"/>
<polyline points="434.4,193.8 434.4,198.8"/>
<polyline points="315.5,75.0 318.8,79.5 322.5,78.2 325.5,76.5 335.0,74.5 327.5,75.0 322.5,75.8 318.8,74.5 315.5,75.0"/>
<polyline points="321.2,77.0 326.2,79.0"/>
<polyline points="101.5,193.0 103.5,193.8"/>
<polyline points="104.0,195.5 105.5,197.0"/>
<polyline points="184.0,198.5 185.2,199.8"/>
<polyline points="201.5,187.5 202.8,188.2"/>
</g></svg>
<rect x="74.5" y="57.5" width="450" height="362" fill="none" stroke="#000" stroke-width="1.2"/>
<defs><linearGradient id="cb" x1="0" y1="0" x2="0" y2="1"><stop offset="0.0000" stop-color="#ffff00"/><stop offset="0.0156" stop-color="#fdf400"/><stop offset="0.0312" stop-color="#fbe900"/><stop offset="0.0469" stop-color="#f9de00"/><stop offset="0.0625" stop-color="#f7d400"/><stop offset="0.0781" stop-color="#f5ca00"/><stop offset="0.0938" stop-color="#f3c000"/><stop offset="0.1094" stop-color="#f0b200"/><stop offset="0.1250" stop-color="#eea900"/><stop offset="0.1406" stop-color="#eca100"/><stop offset="0.1562" stop-color="#ea9800"/><stop offset="0.1719" stop-color="#e89000"/><stop offset="0.1875" stop-color="#e68900"/><stop offset="0.2031" stop-color="#e48100"/><stop offset="0.2188" stop-color="#e27a00"/><stop offset="0.2344" stop-color="#df7300"/><stop offset="0.2500" stop-color="#dd6d00"/><stop offset="0.2656" stop-color="#db6600"/><stop offset="0.2812" stop-color="#d85d00"/><stop offset="0.2969" stop-color="#d55700"/><stop offset="0.3125" stop-color="#d35200"/><stop offset="0.3281" stop-color="#d14d00"/><stop offset="0.3438" stop-color="#ce4800"/><stop offset="0.3594" stop-color="#cc4300"/><stop offset="0.3750" stop-color="#ca3e00"/><stop offset="0.3906" stop-color="#c73a00"/><stop offset="0.4062" stop-color="#c53600"/><stop offset="0.4219" stop-color="#c23200"/><stop offset="0.4375" stop-color="#c02e00"/><stop offset="0.4531" stop-color="#bd2a00"/><stop offset="0.4688" stop-color="#bb2700"/><stop offset="0.4844" stop-color="#b72200"/><stop offset="0.5000" stop-color="#b41f04"/><stop offset="0.5156" stop-color="#b11d1c"/><stop offset="0.5312" stop-color="#ae1a34"/><stop offset="0.5469" stop-color="#ac184b"/><stop offset="0.5625" stop-color="#a91562"/><stop offset="0.5781" stop-color="#a61377"/><stop offset="0.5938" stop-color="#a3118c"/><stop offset="0.6094" stop-color="#a00f9f"/><stop offset="0.6250" stop-color="#9d0eb1"/><stop offset="0.6406" stop-color="#9a0cc2"/><stop offset="0.6562" stop-color="#950ad7"/><stop offset="0.6719" stop-color="#9109e3"/><stop offset="0.6875" stop-color="#8e08ed"/><stop offset="0.7031" stop-color="#8b07f5"/><stop offset="0.7188" stop-color="#8706fa"/><stop offset="0.7344" stop-color="#8305fe"/><stop offset="0.7500" stop-color="#8004ff"/><stop offset="0.7656" stop-color="#7c03fe"/><stop offset="0.7812" stop-color="#7803fa"/><stop offset="0.7969" stop-color="#7302f5"/><stop offset="0.8125" stop-color="#6f02ed"/><stop offset="0.8281" stop-color="#6b01e3"/><stop offset="0.8438" stop-color="#6601d7"/><stop offset="0.8594" stop-color="#5f01c2"/><stop offset="0.8750" stop-color="#5900b1"/><stop offset="0.8906" stop-color="#54009f"/><stop offset="0.9062" stop-color="#4e008c"/><stop offset="0.9219" stop-color="#470077"/><stop offset="0.9375" stop-color="#400062"/><stop offset="0.9531" stop-color="#38004b"/><stop offset="0.9688" stop-color="#2e0034"/><stop offset="0.9844" stop-color="#22001c"/><stop offset="1.0000" stop-color="#0d0004"/></linearGradient></defs>
<rect x="535.5" y="57.5" width="22" height="362" fill="url(#cb)" stroke="#000" stroke-width="1.2"/>
<text x="571" y="61.3">10.5</text>
<path d="M535.5 103.5h5M557.5 103.5h-5" stroke="#000" stroke-width="1"/>
<text x="571" y="106.5">10</text>
<path d="M535.5 148.5h5M557.5 148.5h-5" stroke="#000" stroke-width="1"/>
<text x="571" y="151.8">9.5</text>
<path d="M535.5 193.5h5M557.5 193.5h-5" stroke="#000" stroke-width="1"/>
<text x="571" y="197.1">9</text>
<path d="M535.5 238.5h5M557.5 238.5h-5" stroke="#000" stroke-width="1"/>
<text x="571" y="242.3">8.5</text>
<path d="M535.5 284.5h5M557.5 284.5h-5" stroke="#000" stroke-width="1"/>
<text x="571" y="287.6">8</text>
<path d="M535.5 329.5h5M557.5 329.5h-5" stroke="#000" stroke-width="1"/>
<text x="571" y="332.8">7.5</text>
<path d="M535.5 374.5h5M557.5 374.5h-5" stroke="#000" stroke-width="1"/>
<text x="571" y="378.1">7</text>
<text x="571" y="423.3">6.5</text>
<text x="62.5" y="76.7" text-anchor="end">80</text>
<text x="62.5" y="118.0" text-anchor="end">60</text>
<text x="62.5" y="159.2" text-anchor="end">40</text>
<text x="62.5" y="200.5" text-anchor="end">20</text>
<text x="62.5" y="241.8" text-anchor="end">0</text>
<text x="62.5" y="283.1" text-anchor="end">-20</text>
<text x="62.5" y="324.4" text-anchor="end">-40</text>
<text x="62.5" y="365.6" text-anchor="end">-60</text>
<text x="62.5" y="406.9" text-anchor="end">-80</text>
<text x="112.0" y="442.3" text-anchor="middle">-150</text>
<text x="174.5" y="442.3" text-anchor="middle">-100</text>
<text x="237.0" y="442.3" text-anchor="middle">-50</text>
<text x="299.5" y="442.3" text-anchor="middle">0</text>
<text x="362.0" y="442.3" text-anchor="middle">50</text>
<text x="424.5" y="442.3" text-anchor="middle">100</text>
<text x="487.0" y="442.3" text-anchor="middle">150</text>
<text x="296.7" y="31.5" text-anchor="middle">StdDev_VTEC / TECU 20110708_189.05400</text>
<text x="297.5" y="470" text-anchor="middle">Longitude / deg</text>
<text transform="translate(16.5,238) rotate(-90)" text-anchor="middle">Latitude / deg</text>
</svg></body></html>
